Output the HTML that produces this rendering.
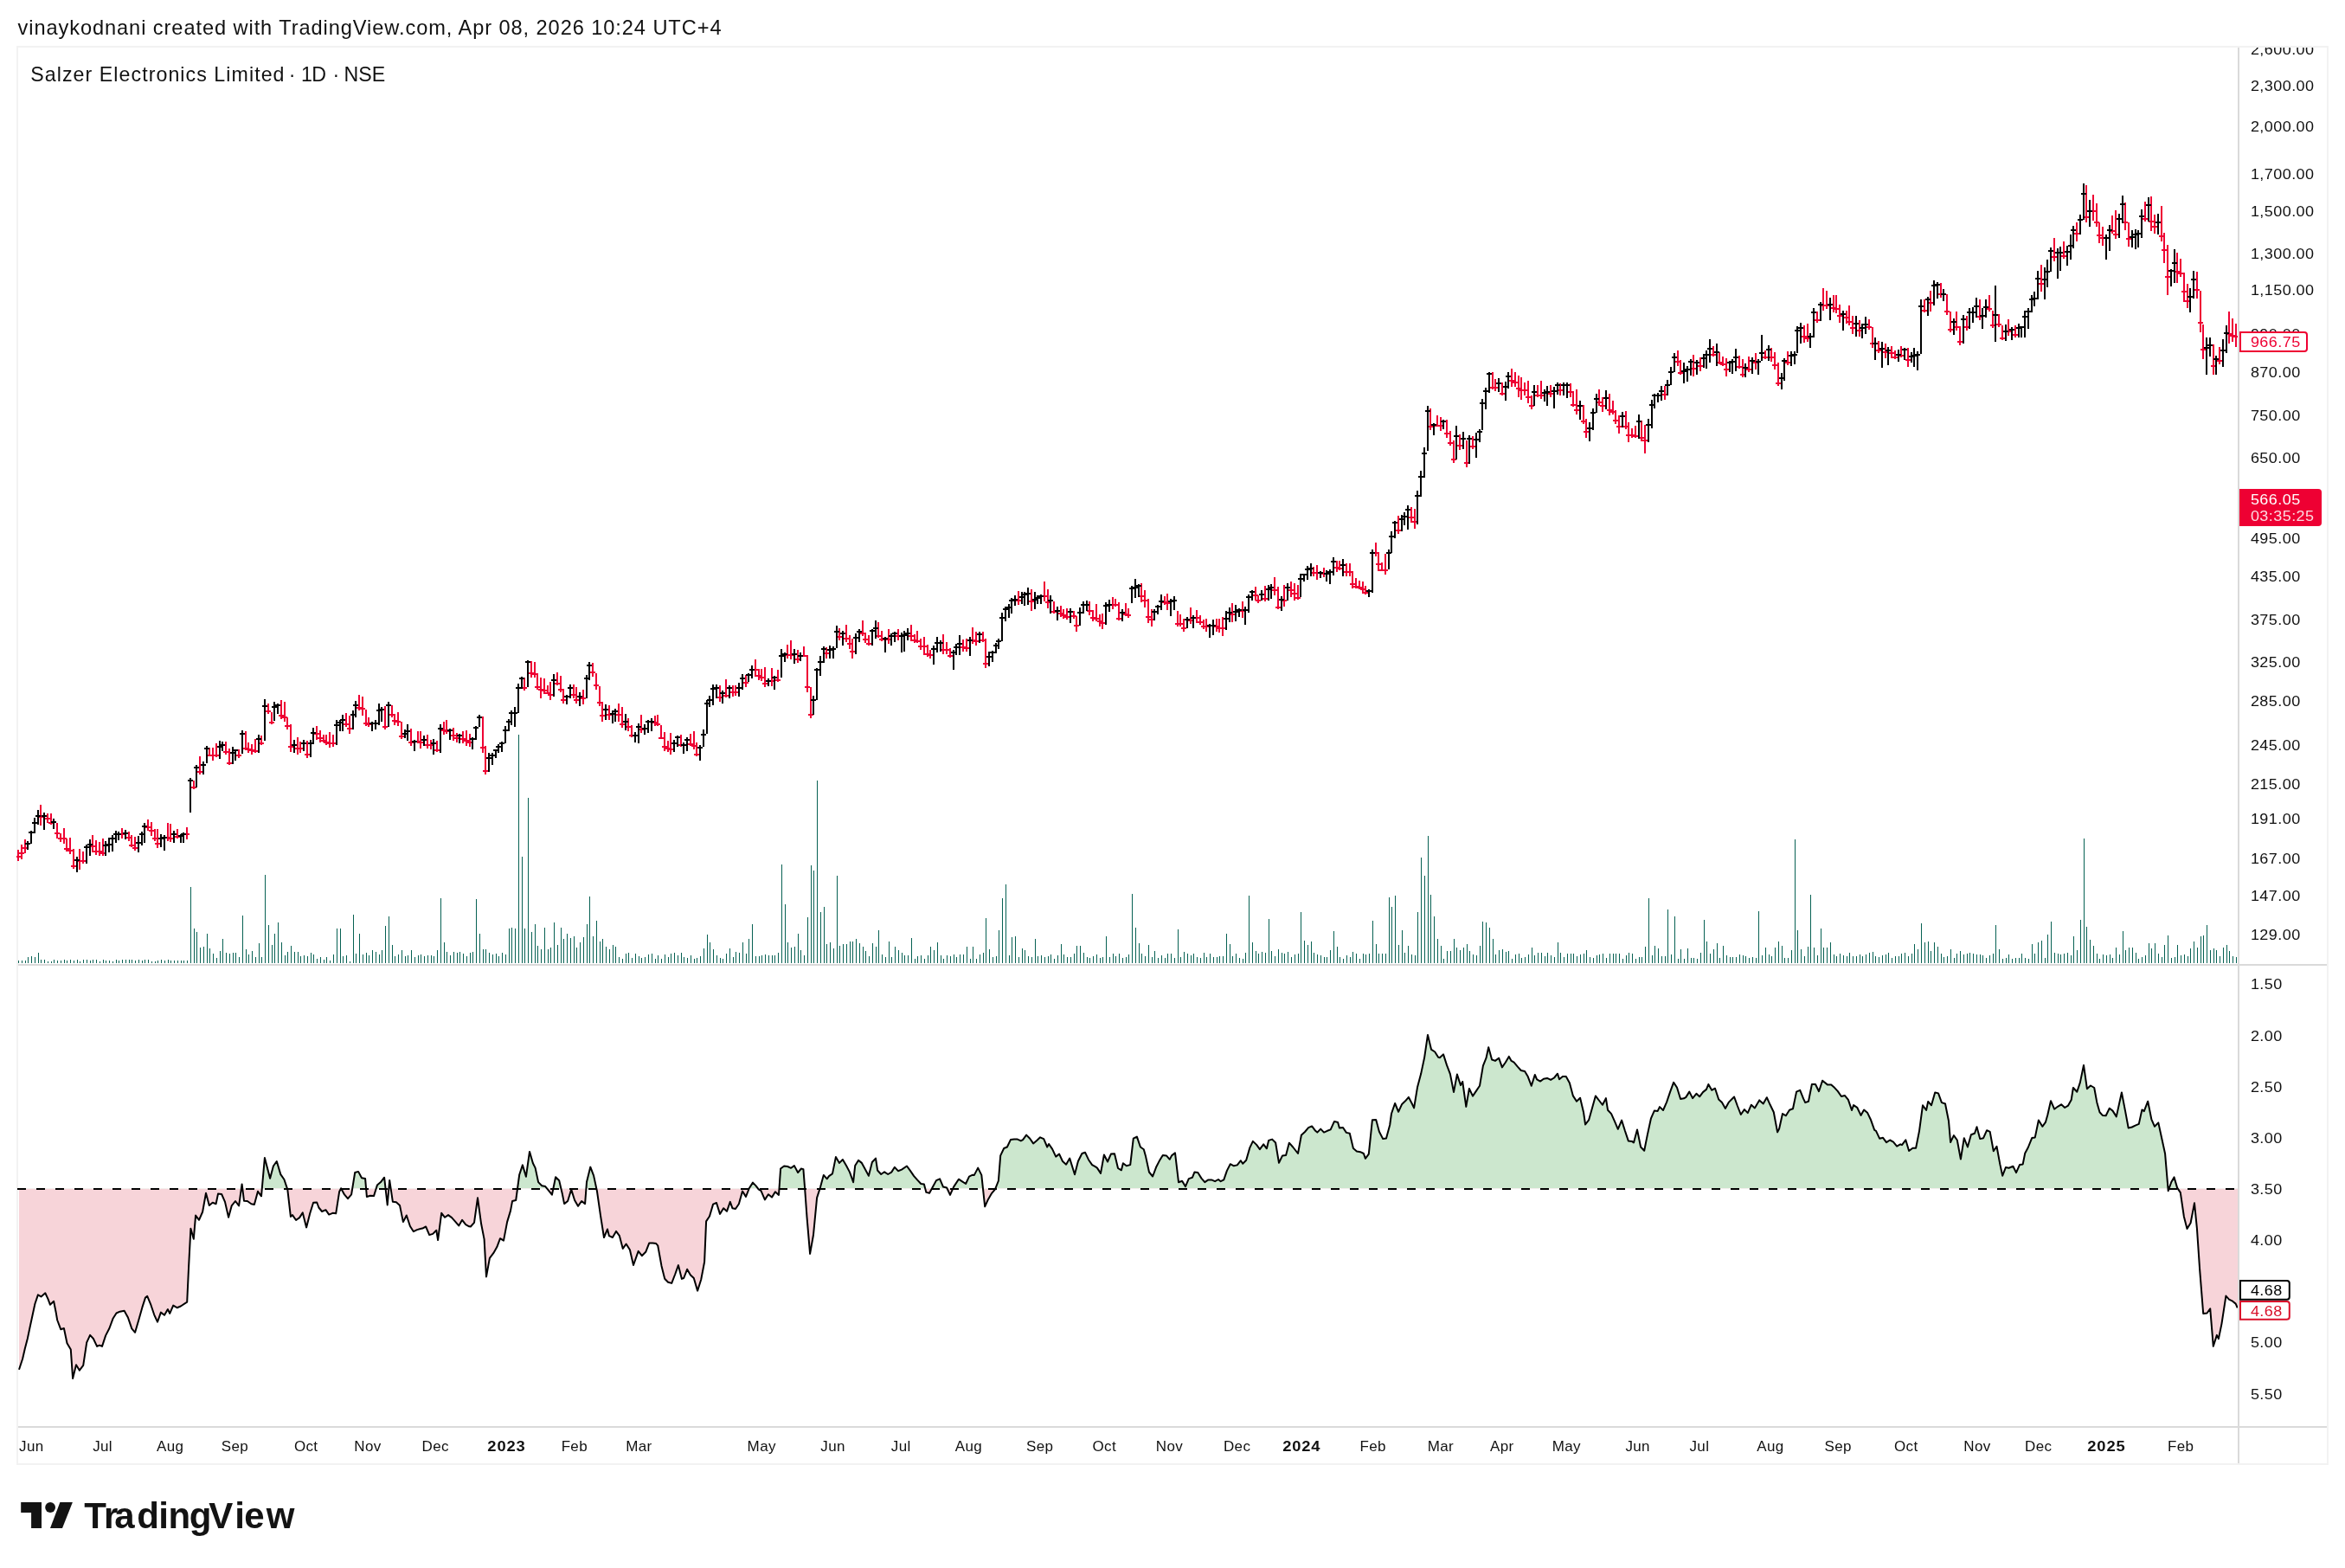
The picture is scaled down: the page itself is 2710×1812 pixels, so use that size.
<!DOCTYPE html><html><head><meta charset="utf-8"><title>Salzer Electronics Limited</title><style>html,body{margin:0;padding:0;background:#fff}svg{display:block;will-change:transform}</style></head><body><svg width="2710" height="1812" viewBox="0 0 2710 1812" font-family='&quot;Liberation Sans&quot;, sans-serif'><defs><clipPath id="cu"><rect x="0" y="1116" width="2586" height="257.5"/></clipPath><clipPath id="cd"><rect x="0" y="1373.5" width="2586" height="300"/></clipPath><clipPath id="ca"><rect x="2588" y="55" width="101" height="1060"/></clipPath><clipPath id="cp"><rect x="19" y="55" width="2567" height="1059"/></clipPath></defs><text x="20.5" y="40" font-size="23.6" fill="#111" textLength="813" lengthAdjust="spacing">vinaykodnani created with TradingView.com, Apr 08, 2026 10:24 UTC+4</text><rect x="20" y="54" width="2670" height="1638" fill="none" stroke="#f2f2f2" stroke-width="2"/><g font-size="23.2" fill="#111"><text x="35.2" y="94" textLength="293.3" lengthAdjust="spacing">Salzer Electronics Limited</text><text x="337.7" y="94" text-anchor="middle">·</text><text x="348" y="94" textLength="29" lengthAdjust="spacing">1D</text><text x="388.4" y="94" text-anchor="middle">·</text><text x="397.6" y="94" textLength="47.6" lengthAdjust="spacing">NSE</text></g><path d="M22 1373.5 L22 1582.7 26.1 1570.2 28.8 1558.6 31.8 1547 35 1531.8 37.7 1519.3 40.4 1506.8 43.9 1496.4 47.5 1498.4 52.3 1494.3 55.5 1501.1 57.9 1507.7 62.1 1503.8 64.5 1515.7 66.2 1525.5 70.2 1536.2 73.9 1535 77.5 1552.3 81.8 1559.5 84.1 1592.9 88 1577.3 91.8 1583.6 96.2 1577.9 100.2 1551.4 104.1 1542.9 107.9 1547 112.1 1555.9 115 1554.6 118 1555.9 122.1 1543.4 126.4 1535 130.5 1523.8 134.5 1517.5 138.6 1515.7 143.6 1514.8 147.9 1522.5 152.3 1535.4 156.1 1539.8 160.4 1525 164.5 1510.4 168 1499.6 170.2 1497.9 174.3 1507.7 178.2 1519.3 182 1527.7 185.9 1516.6 190 1519.8 193.9 1513 196.2 1517.9 200.2 1508.6 204.6 1511.2 208.8 1509.5 216.2 1504.6 218 1465.7 220.4 1419.8 223.8 1431.8 226.1 1404.6 230 1409.8 234.1 1400.5 238 1378.8 241.8 1393 245.7 1389.8 249.6 1391.2 252 1379.6 256.1 1380 260 1388.9 264.1 1406.8 267.7 1393.4 272 1388 276.1 1393.4 279.6 1368.4 282 1387.7 285.9 1388 290.4 1391.2 293.9 1392 298 1376.8 302 1382.3 305.9 1338 312.1 1361.8 315.9 1347.5 319.8 1342 324.3 1357.1 328.4 1363 332.3 1374.6 335.9 1405.9 338 1404.1 342.1 1410 346.1 1407.1 349.8 1401.4 354.1 1418.4 358.2 1402.3 362.1 1389.8 366.2 1389.5 368.4 1395.5 372.1 1400 376.4 1398.2 380.2 1403.6 384.5 1401.8 388.2 1402.3 392.1 1377.3 394.1 1373.2 398 1380.4 402 1385.2 406.1 1380.4 410.2 1355 414.1 1353.9 418 1361.2 422.1 1362.1 423.9 1383 427.9 1381.8 432 1382.1 435.9 1369.6 440 1366.1 444.1 1360.7 447.7 1392.5 450.2 1363.9 453.9 1388.8 457.9 1389.3 462 1392.9 465.9 1412.1 469.8 1404.5 473.9 1417 477.9 1423.2 482 1421.1 485.9 1420 488.2 1419.6 492.1 1417.5 496.2 1427.1 500.2 1425.9 504.3 1421.8 506.1 1433 510.2 1401.8 514.1 1406.8 518 1404.1 522.1 1407.1 526.1 1411.6 530.2 1416.4 534.1 1409.8 538.2 1415.2 542.1 1417.3 543.9 1417.5 548 1412.9 552 1384.3 556.1 1414.3 559.6 1432.1 562 1475.4 565.9 1453.9 570.4 1447.9 574.3 1441.1 578 1431.2 582 1433.6 586.1 1412.1 590 1399.1 592.1 1387.9 596.2 1387 600.2 1357.5 603.9 1346.4 607.9 1359.8 612 1330.9 615.9 1344.3 618.6 1349.6 622.1 1366.1 626.2 1370.2 630.2 1371.1 634.1 1375.9 637.9 1380.7 642.1 1360.2 646.2 1364.3 649.8 1379.5 652.1 1391.1 656.1 1388 660.2 1374.6 664.1 1387 668 1393.8 672.1 1388 676.1 1391.1 678 1366.1 682.3 1348.6 686.1 1358.6 690 1376.8 694.1 1405.4 698 1430 702 1420.5 703.9 1428.2 707.9 1430 712 1422.9 715.9 1428.2 719.8 1442.9 723.6 1437.5 727.9 1444.3 732 1462 737.7 1445.9 741.8 1451.2 746.2 1446.8 750.2 1436.6 754.3 1436.6 758.2 1437.1 760.2 1439.3 764.5 1462.9 768.2 1477.7 772.1 1481.8 776.2 1482.9 780.2 1472.5 783.9 1462.1 787.9 1477.9 790.2 1477 794.1 1466.8 798 1473.4 801.8 1477 806.1 1491.6 810.2 1478.8 814.1 1458.2 816.1 1411.4 820 1405.5 824.1 1391.6 828 1390 832 1402.9 836.1 1396.2 840 1399.8 843.8 1388.9 846.4 1396.2 850 1397 853.9 1391.2 858 1376.6 862 1382.9 865.9 1373 870 1366.6 873.6 1370.4 876.6 1374.3 879.5 1376.1 883.9 1386.4 887.9 1380.2 892 1383.6 895.9 1377.3 900 1380.9 902.1 1350.5 906.1 1347.5 910.2 1348 914.1 1349.8 917.9 1347.1 922.1 1355 925.9 1350.5 928.4 1351.1 930.2 1374.3 932.5 1406.4 936.1 1448.9 940 1427 944.1 1384.1 948 1372.1 951.8 1357.9 955.7 1362.3 958 1359.1 962 1356.4 965.9 1337.1 970 1343.9 973.9 1340 978 1347 982 1354.6 986.1 1366.2 988.2 1347.1 992 1340.9 995.9 1343.9 1000 1351.4 1003.9 1358.8 1007.9 1343 1012 1338.6 1014.1 1352.5 1018.2 1357 1022.1 1354.3 1026.2 1357 1030.2 1354.6 1033.9 1348.8 1037.9 1353.2 1042 1351.6 1048 1347.5 1052.1 1353.2 1056.2 1359.1 1060.2 1363.6 1064.3 1368 1067.9 1368.6 1070.4 1377.9 1074.1 1378.8 1078 1371.6 1082 1364.1 1086.1 1362.3 1090 1371.6 1094.1 1372.5 1098 1380.9 1102.1 1371.6 1107.9 1362.7 1112 1365.4 1116.1 1368 1120 1359.6 1124.1 1357.7 1125.9 1357.9 1130.2 1349.6 1134.3 1357.9 1138.2 1394.3 1142 1385.9 1146.2 1378.8 1150 1374.3 1153.9 1364.5 1156.2 1335.4 1160.2 1327 1163.9 1325.5 1167.9 1317.1 1172 1316.6 1175.9 1316.6 1179.8 1318.4 1182.1 1317.1 1186.1 1311.6 1190.2 1315.7 1194.1 1321.4 1198.2 1317.9 1202.1 1314.3 1206.2 1316.2 1210.2 1325.5 1212.1 1322 1216.1 1327.9 1220.2 1336.6 1224.1 1333.6 1228 1342 1232.1 1345.7 1236.2 1338.6 1242 1357.3 1245.9 1342 1250.4 1333 1254.1 1331.8 1258 1340.2 1262.1 1346.1 1266.1 1348.4 1267.9 1349.6 1272 1355.9 1275.9 1334.5 1280 1342.5 1283.9 1333.6 1288 1333.2 1292 1350 1295.9 1352.3 1297.9 1344.3 1301.8 1347.3 1306.2 1346.1 1309.8 1315.7 1313.9 1313.6 1317.9 1325.5 1321.8 1328.2 1324.1 1336.6 1328 1354.5 1332.1 1359.5 1336.1 1348.8 1339.8 1341.6 1343.8 1335 1347.9 1335.4 1351.8 1339.8 1354.1 1335.4 1358 1332.3 1362 1366.2 1366.1 1364.8 1370 1371.1 1373.8 1362.1 1378 1360.7 1380.4 1354.6 1384.3 1355 1388.4 1361.6 1392.3 1366.2 1396.4 1363.4 1400 1363.4 1404.1 1365.2 1408 1363 1410.7 1365.2 1414.3 1363.4 1417.9 1352.9 1421.8 1345.2 1425.9 1347.3 1429.8 1346.4 1433.9 1341.2 1436.2 1344.8 1440.2 1340.7 1444.3 1326.4 1447.9 1318.9 1452.1 1322.9 1455.9 1328.2 1460.2 1322.3 1463.9 1327.3 1466.1 1317.9 1470.2 1316.6 1474.1 1320.5 1478 1343.8 1482.1 1335.4 1486.1 1335 1489.8 1320.7 1494.1 1325.5 1500 1333 1503.9 1311.8 1508 1308 1512.1 1303.2 1516.1 1301.4 1520.2 1306.8 1522.3 1308.6 1526.2 1304.6 1530 1308.6 1533.9 1306.8 1537.7 1305.4 1542 1295.9 1546.1 1297 1547.9 1303.6 1552 1303 1555.9 1308.9 1559.8 1309.8 1563.9 1327.1 1567.9 1330.4 1572 1331.2 1575.9 1333 1577.9 1338.8 1581.8 1333.6 1585.9 1294.3 1590.2 1294.1 1593.9 1307.7 1598.2 1316.1 1602 1315.5 1606.2 1300 1608 1287 1612.1 1275 1616.1 1284.8 1620.2 1275.9 1624.1 1272.3 1627.9 1267.9 1631.8 1275.5 1634.1 1280.4 1638 1256.6 1642.1 1241.1 1646.1 1222.3 1650 1195.9 1654.1 1212.9 1658.2 1215.5 1662.1 1221.8 1663.9 1222.3 1668 1218.4 1672 1230.9 1675.9 1241.1 1680 1262.1 1683.9 1241.6 1688 1254.1 1690.2 1250 1694.3 1278.9 1697.9 1258 1702 1266.6 1706.2 1260.4 1710 1254.8 1713.9 1231.6 1717.5 1222.7 1720.2 1210.2 1724.1 1224.5 1727.9 1225.9 1732.1 1222.7 1735.9 1233.4 1739.8 1227.7 1743.8 1220.9 1746.6 1225.9 1749.6 1227.7 1753.8 1232.7 1757.7 1237 1762.1 1237.9 1765.7 1244.1 1769.8 1254.8 1773.8 1242 1776.1 1247.3 1780 1249.6 1783.9 1246.8 1788 1245.9 1792.1 1247.9 1796.1 1245.5 1800 1240.7 1802 1247.3 1805.9 1244.1 1809.8 1244.1 1813.9 1251.4 1817.9 1266.4 1822 1272.7 1826.1 1268.8 1830 1285.2 1832.1 1299.5 1836.2 1294.1 1840.2 1279.8 1843.9 1266.4 1848.2 1272 1852 1276.8 1855.9 1269.1 1858 1282.7 1862.1 1287.1 1866.1 1296.1 1869.8 1304.8 1874.1 1294.6 1877.9 1306.8 1881.8 1318.4 1886.2 1319.1 1888 1320.5 1892 1305.4 1896.1 1325.5 1900.2 1329.8 1903.8 1311.6 1908 1292.3 1911.8 1283.6 1915.7 1283.9 1918 1279.1 1922 1283 1926.1 1273.6 1930 1262.1 1934.1 1250.9 1938 1256.8 1942.1 1270 1946.1 1269.3 1948.4 1267.9 1952.3 1261.6 1956.1 1269.1 1960.4 1263.8 1964.1 1267.3 1968 1262.1 1972 1258.9 1974.3 1253 1978.2 1259.8 1982 1257.7 1986.2 1270.5 1990 1274.1 1993.9 1280.9 1998 1273.6 2004.1 1267.5 2007.9 1278 2011.8 1288 2015.9 1282.1 2019.8 1286.1 2023.8 1276.8 2027.9 1280.4 2033.2 1271.4 2037.7 1275.5 2041.8 1268.2 2045.7 1276.8 2049.8 1285.2 2054.1 1308.4 2056.1 1304.5 2060 1287 2063.9 1289.3 2068 1282.7 2072 1281.2 2076.1 1261.6 2080.2 1259.8 2084.1 1269.6 2086.2 1274.1 2090 1272.7 2093.9 1253 2098 1253 2102 1261.2 2106.1 1248.8 2112.1 1253.6 2116.2 1253.6 2120.2 1257.1 2123.9 1261.1 2127.9 1267 2132 1266.1 2135.9 1270.9 2140 1283 2142.1 1277.1 2146.2 1279.8 2150.5 1288.9 2154.1 1282.5 2158.2 1286.1 2162.1 1294.3 2166.2 1305.9 2168 1306.8 2172.1 1315.7 2176.1 1314.8 2180 1320.2 2184.1 1317.5 2188 1319.6 2192.1 1324.6 2196.2 1322.3 2198 1323.2 2202.3 1317.3 2206.1 1330 2210.4 1326.8 2214.1 1326.8 2218 1307.1 2222 1277.3 2226.1 1283 2228.2 1272.9 2232 1277.3 2236.2 1262.5 2240 1263.4 2243.9 1274.1 2248 1275.5 2252 1295.5 2254.1 1320 2257.9 1312.1 2261.8 1317.5 2265.9 1339.6 2269.8 1315.2 2273.9 1325.5 2277.9 1311.2 2282 1309.8 2284.5 1302.3 2288.2 1316.1 2292.1 1315.2 2296.1 1306.2 2299.7 1307.9 2303.8 1330.2 2307.5 1324.8 2311.3 1345.4 2314.2 1358.7 2317.9 1349.1 2321.5 1349.8 2326.4 1347.8 2330 1355.1 2334.1 1345.9 2337.7 1345.4 2340.2 1332.8 2343.8 1326 2348.2 1315.1 2351.8 1314.4 2355.9 1294.5 2360.3 1301.8 2363.9 1296.9 2366.3 1288.5 2370 1272.2 2374.1 1281.7 2378 1278.8 2382.1 1276.3 2386.2 1280 2390.1 1277.6 2393.7 1271 2395.9 1257 2400.3 1261.8 2403.9 1250.9 2408 1231 2411.9 1258.2 2416 1254.5 2420.2 1257 2423.3 1273.9 2426.5 1285.3 2429.8 1288.9 2433.7 1289.2 2437.8 1280.7 2441.5 1283.6 2445.8 1290.4 2451.9 1262.5 2456 1283.6 2459.7 1303.5 2463.8 1302.5 2467.7 1300.6 2471.8 1298.9 2475.4 1282.4 2477.8 1284.1 2482.2 1272.7 2486.3 1293.3 2490 1301.8 2494.3 1297.4 2498.4 1316.3 2502.1 1333.3 2505.7 1376.2 2509.3 1366 2512.5 1360.4 2516.1 1372.6 2519.8 1378.1 2523.9 1406 2527.5 1420.1 2531.6 1413.3 2536 1390.3 2538.9 1419.3 2542.1 1466.6 2546.2 1518 2550.5 1517.5 2554.2 1512.2 2557.8 1555.8 2561.9 1542.9 2563.9 1547.1 2567.5 1529.6 2572.4 1497.6 2576 1501.7 2580.1 1503.7 2583.7 1506.6 2585.7 1511.4 L2586 1511.4 L2586 1373.5 Z" fill="#cce7ce" clip-path="url(#cu)"/><path d="M22 1373.5 L22 1582.7 26.1 1570.2 28.8 1558.6 31.8 1547 35 1531.8 37.7 1519.3 40.4 1506.8 43.9 1496.4 47.5 1498.4 52.3 1494.3 55.5 1501.1 57.9 1507.7 62.1 1503.8 64.5 1515.7 66.2 1525.5 70.2 1536.2 73.9 1535 77.5 1552.3 81.8 1559.5 84.1 1592.9 88 1577.3 91.8 1583.6 96.2 1577.9 100.2 1551.4 104.1 1542.9 107.9 1547 112.1 1555.9 115 1554.6 118 1555.9 122.1 1543.4 126.4 1535 130.5 1523.8 134.5 1517.5 138.6 1515.7 143.6 1514.8 147.9 1522.5 152.3 1535.4 156.1 1539.8 160.4 1525 164.5 1510.4 168 1499.6 170.2 1497.9 174.3 1507.7 178.2 1519.3 182 1527.7 185.9 1516.6 190 1519.8 193.9 1513 196.2 1517.9 200.2 1508.6 204.6 1511.2 208.8 1509.5 216.2 1504.6 218 1465.7 220.4 1419.8 223.8 1431.8 226.1 1404.6 230 1409.8 234.1 1400.5 238 1378.8 241.8 1393 245.7 1389.8 249.6 1391.2 252 1379.6 256.1 1380 260 1388.9 264.1 1406.8 267.7 1393.4 272 1388 276.1 1393.4 279.6 1368.4 282 1387.7 285.9 1388 290.4 1391.2 293.9 1392 298 1376.8 302 1382.3 305.9 1338 312.1 1361.8 315.9 1347.5 319.8 1342 324.3 1357.1 328.4 1363 332.3 1374.6 335.9 1405.9 338 1404.1 342.1 1410 346.1 1407.1 349.8 1401.4 354.1 1418.4 358.2 1402.3 362.1 1389.8 366.2 1389.5 368.4 1395.5 372.1 1400 376.4 1398.2 380.2 1403.6 384.5 1401.8 388.2 1402.3 392.1 1377.3 394.1 1373.2 398 1380.4 402 1385.2 406.1 1380.4 410.2 1355 414.1 1353.9 418 1361.2 422.1 1362.1 423.9 1383 427.9 1381.8 432 1382.1 435.9 1369.6 440 1366.1 444.1 1360.7 447.7 1392.5 450.2 1363.9 453.9 1388.8 457.9 1389.3 462 1392.9 465.9 1412.1 469.8 1404.5 473.9 1417 477.9 1423.2 482 1421.1 485.9 1420 488.2 1419.6 492.1 1417.5 496.2 1427.1 500.2 1425.9 504.3 1421.8 506.1 1433 510.2 1401.8 514.1 1406.8 518 1404.1 522.1 1407.1 526.1 1411.6 530.2 1416.4 534.1 1409.8 538.2 1415.2 542.1 1417.3 543.9 1417.5 548 1412.9 552 1384.3 556.1 1414.3 559.6 1432.1 562 1475.4 565.9 1453.9 570.4 1447.9 574.3 1441.1 578 1431.2 582 1433.6 586.1 1412.1 590 1399.1 592.1 1387.9 596.2 1387 600.2 1357.5 603.9 1346.4 607.9 1359.8 612 1330.9 615.9 1344.3 618.6 1349.6 622.1 1366.1 626.2 1370.2 630.2 1371.1 634.1 1375.9 637.9 1380.7 642.1 1360.2 646.2 1364.3 649.8 1379.5 652.1 1391.1 656.1 1388 660.2 1374.6 664.1 1387 668 1393.8 672.1 1388 676.1 1391.1 678 1366.1 682.3 1348.6 686.1 1358.6 690 1376.8 694.1 1405.4 698 1430 702 1420.5 703.9 1428.2 707.9 1430 712 1422.9 715.9 1428.2 719.8 1442.9 723.6 1437.5 727.9 1444.3 732 1462 737.7 1445.9 741.8 1451.2 746.2 1446.8 750.2 1436.6 754.3 1436.6 758.2 1437.1 760.2 1439.3 764.5 1462.9 768.2 1477.7 772.1 1481.8 776.2 1482.9 780.2 1472.5 783.9 1462.1 787.9 1477.9 790.2 1477 794.1 1466.8 798 1473.4 801.8 1477 806.1 1491.6 810.2 1478.8 814.1 1458.2 816.1 1411.4 820 1405.5 824.1 1391.6 828 1390 832 1402.9 836.1 1396.2 840 1399.8 843.8 1388.9 846.4 1396.2 850 1397 853.9 1391.2 858 1376.6 862 1382.9 865.9 1373 870 1366.6 873.6 1370.4 876.6 1374.3 879.5 1376.1 883.9 1386.4 887.9 1380.2 892 1383.6 895.9 1377.3 900 1380.9 902.1 1350.5 906.1 1347.5 910.2 1348 914.1 1349.8 917.9 1347.1 922.1 1355 925.9 1350.5 928.4 1351.1 930.2 1374.3 932.5 1406.4 936.1 1448.9 940 1427 944.1 1384.1 948 1372.1 951.8 1357.9 955.7 1362.3 958 1359.1 962 1356.4 965.9 1337.1 970 1343.9 973.9 1340 978 1347 982 1354.6 986.1 1366.2 988.2 1347.1 992 1340.9 995.9 1343.9 1000 1351.4 1003.9 1358.8 1007.9 1343 1012 1338.6 1014.1 1352.5 1018.2 1357 1022.1 1354.3 1026.2 1357 1030.2 1354.6 1033.9 1348.8 1037.9 1353.2 1042 1351.6 1048 1347.5 1052.1 1353.2 1056.2 1359.1 1060.2 1363.6 1064.3 1368 1067.9 1368.6 1070.4 1377.9 1074.1 1378.8 1078 1371.6 1082 1364.1 1086.1 1362.3 1090 1371.6 1094.1 1372.5 1098 1380.9 1102.1 1371.6 1107.9 1362.7 1112 1365.4 1116.1 1368 1120 1359.6 1124.1 1357.7 1125.9 1357.9 1130.2 1349.6 1134.3 1357.9 1138.2 1394.3 1142 1385.9 1146.2 1378.8 1150 1374.3 1153.9 1364.5 1156.2 1335.4 1160.2 1327 1163.9 1325.5 1167.9 1317.1 1172 1316.6 1175.9 1316.6 1179.8 1318.4 1182.1 1317.1 1186.1 1311.6 1190.2 1315.7 1194.1 1321.4 1198.2 1317.9 1202.1 1314.3 1206.2 1316.2 1210.2 1325.5 1212.1 1322 1216.1 1327.9 1220.2 1336.6 1224.1 1333.6 1228 1342 1232.1 1345.7 1236.2 1338.6 1242 1357.3 1245.9 1342 1250.4 1333 1254.1 1331.8 1258 1340.2 1262.1 1346.1 1266.1 1348.4 1267.9 1349.6 1272 1355.9 1275.9 1334.5 1280 1342.5 1283.9 1333.6 1288 1333.2 1292 1350 1295.9 1352.3 1297.9 1344.3 1301.8 1347.3 1306.2 1346.1 1309.8 1315.7 1313.9 1313.6 1317.9 1325.5 1321.8 1328.2 1324.1 1336.6 1328 1354.5 1332.1 1359.5 1336.1 1348.8 1339.8 1341.6 1343.8 1335 1347.9 1335.4 1351.8 1339.8 1354.1 1335.4 1358 1332.3 1362 1366.2 1366.1 1364.8 1370 1371.1 1373.8 1362.1 1378 1360.7 1380.4 1354.6 1384.3 1355 1388.4 1361.6 1392.3 1366.2 1396.4 1363.4 1400 1363.4 1404.1 1365.2 1408 1363 1410.7 1365.2 1414.3 1363.4 1417.9 1352.9 1421.8 1345.2 1425.9 1347.3 1429.8 1346.4 1433.9 1341.2 1436.2 1344.8 1440.2 1340.7 1444.3 1326.4 1447.9 1318.9 1452.1 1322.9 1455.9 1328.2 1460.2 1322.3 1463.9 1327.3 1466.1 1317.9 1470.2 1316.6 1474.1 1320.5 1478 1343.8 1482.1 1335.4 1486.1 1335 1489.8 1320.7 1494.1 1325.5 1500 1333 1503.9 1311.8 1508 1308 1512.1 1303.2 1516.1 1301.4 1520.2 1306.8 1522.3 1308.6 1526.2 1304.6 1530 1308.6 1533.9 1306.8 1537.7 1305.4 1542 1295.9 1546.1 1297 1547.9 1303.6 1552 1303 1555.9 1308.9 1559.8 1309.8 1563.9 1327.1 1567.9 1330.4 1572 1331.2 1575.9 1333 1577.9 1338.8 1581.8 1333.6 1585.9 1294.3 1590.2 1294.1 1593.9 1307.7 1598.2 1316.1 1602 1315.5 1606.2 1300 1608 1287 1612.1 1275 1616.1 1284.8 1620.2 1275.9 1624.1 1272.3 1627.9 1267.9 1631.8 1275.5 1634.1 1280.4 1638 1256.6 1642.1 1241.1 1646.1 1222.3 1650 1195.9 1654.1 1212.9 1658.2 1215.5 1662.1 1221.8 1663.9 1222.3 1668 1218.4 1672 1230.9 1675.9 1241.1 1680 1262.1 1683.9 1241.6 1688 1254.1 1690.2 1250 1694.3 1278.9 1697.9 1258 1702 1266.6 1706.2 1260.4 1710 1254.8 1713.9 1231.6 1717.5 1222.7 1720.2 1210.2 1724.1 1224.5 1727.9 1225.9 1732.1 1222.7 1735.9 1233.4 1739.8 1227.7 1743.8 1220.9 1746.6 1225.9 1749.6 1227.7 1753.8 1232.7 1757.7 1237 1762.1 1237.9 1765.7 1244.1 1769.8 1254.8 1773.8 1242 1776.1 1247.3 1780 1249.6 1783.9 1246.8 1788 1245.9 1792.1 1247.9 1796.1 1245.5 1800 1240.7 1802 1247.3 1805.9 1244.1 1809.8 1244.1 1813.9 1251.4 1817.9 1266.4 1822 1272.7 1826.1 1268.8 1830 1285.2 1832.1 1299.5 1836.2 1294.1 1840.2 1279.8 1843.9 1266.4 1848.2 1272 1852 1276.8 1855.9 1269.1 1858 1282.7 1862.1 1287.1 1866.1 1296.1 1869.8 1304.8 1874.1 1294.6 1877.9 1306.8 1881.8 1318.4 1886.2 1319.1 1888 1320.5 1892 1305.4 1896.1 1325.5 1900.2 1329.8 1903.8 1311.6 1908 1292.3 1911.8 1283.6 1915.7 1283.9 1918 1279.1 1922 1283 1926.1 1273.6 1930 1262.1 1934.1 1250.9 1938 1256.8 1942.1 1270 1946.1 1269.3 1948.4 1267.9 1952.3 1261.6 1956.1 1269.1 1960.4 1263.8 1964.1 1267.3 1968 1262.1 1972 1258.9 1974.3 1253 1978.2 1259.8 1982 1257.7 1986.2 1270.5 1990 1274.1 1993.9 1280.9 1998 1273.6 2004.1 1267.5 2007.9 1278 2011.8 1288 2015.9 1282.1 2019.8 1286.1 2023.8 1276.8 2027.9 1280.4 2033.2 1271.4 2037.7 1275.5 2041.8 1268.2 2045.7 1276.8 2049.8 1285.2 2054.1 1308.4 2056.1 1304.5 2060 1287 2063.9 1289.3 2068 1282.7 2072 1281.2 2076.1 1261.6 2080.2 1259.8 2084.1 1269.6 2086.2 1274.1 2090 1272.7 2093.9 1253 2098 1253 2102 1261.2 2106.1 1248.8 2112.1 1253.6 2116.2 1253.6 2120.2 1257.1 2123.9 1261.1 2127.9 1267 2132 1266.1 2135.9 1270.9 2140 1283 2142.1 1277.1 2146.2 1279.8 2150.5 1288.9 2154.1 1282.5 2158.2 1286.1 2162.1 1294.3 2166.2 1305.9 2168 1306.8 2172.1 1315.7 2176.1 1314.8 2180 1320.2 2184.1 1317.5 2188 1319.6 2192.1 1324.6 2196.2 1322.3 2198 1323.2 2202.3 1317.3 2206.1 1330 2210.4 1326.8 2214.1 1326.8 2218 1307.1 2222 1277.3 2226.1 1283 2228.2 1272.9 2232 1277.3 2236.2 1262.5 2240 1263.4 2243.9 1274.1 2248 1275.5 2252 1295.5 2254.1 1320 2257.9 1312.1 2261.8 1317.5 2265.9 1339.6 2269.8 1315.2 2273.9 1325.5 2277.9 1311.2 2282 1309.8 2284.5 1302.3 2288.2 1316.1 2292.1 1315.2 2296.1 1306.2 2299.7 1307.9 2303.8 1330.2 2307.5 1324.8 2311.3 1345.4 2314.2 1358.7 2317.9 1349.1 2321.5 1349.8 2326.4 1347.8 2330 1355.1 2334.1 1345.9 2337.7 1345.4 2340.2 1332.8 2343.8 1326 2348.2 1315.1 2351.8 1314.4 2355.9 1294.5 2360.3 1301.8 2363.9 1296.9 2366.3 1288.5 2370 1272.2 2374.1 1281.7 2378 1278.8 2382.1 1276.3 2386.2 1280 2390.1 1277.6 2393.7 1271 2395.9 1257 2400.3 1261.8 2403.9 1250.9 2408 1231 2411.9 1258.2 2416 1254.5 2420.2 1257 2423.3 1273.9 2426.5 1285.3 2429.8 1288.9 2433.7 1289.2 2437.8 1280.7 2441.5 1283.6 2445.8 1290.4 2451.9 1262.5 2456 1283.6 2459.7 1303.5 2463.8 1302.5 2467.7 1300.6 2471.8 1298.9 2475.4 1282.4 2477.8 1284.1 2482.2 1272.7 2486.3 1293.3 2490 1301.8 2494.3 1297.4 2498.4 1316.3 2502.1 1333.3 2505.7 1376.2 2509.3 1366 2512.5 1360.4 2516.1 1372.6 2519.8 1378.1 2523.9 1406 2527.5 1420.1 2531.6 1413.3 2536 1390.3 2538.9 1419.3 2542.1 1466.6 2546.2 1518 2550.5 1517.5 2554.2 1512.2 2557.8 1555.8 2561.9 1542.9 2563.9 1547.1 2567.5 1529.6 2572.4 1497.6 2576 1501.7 2580.1 1503.7 2583.7 1506.6 2585.7 1511.4 L2586 1511.4 L2586 1373.5 Z" fill="#f7d4d9" clip-path="url(#cd)"/><path d="M20 1374H2586" stroke="#000" stroke-width="2" stroke-dasharray="10 12" fill="none"/><polyline points="22,1582.7 26.1,1570.2 28.8,1558.6 31.8,1547 35,1531.8 37.7,1519.3 40.4,1506.8 43.9,1496.4 47.5,1498.4 52.3,1494.3 55.5,1501.1 57.9,1507.7 62.1,1503.8 64.5,1515.7 66.2,1525.5 70.2,1536.2 73.9,1535 77.5,1552.3 81.8,1559.5 84.1,1592.9 88,1577.3 91.8,1583.6 96.2,1577.9 100.2,1551.4 104.1,1542.9 107.9,1547 112.1,1555.9 115,1554.6 118,1555.9 122.1,1543.4 126.4,1535 130.5,1523.8 134.5,1517.5 138.6,1515.7 143.6,1514.8 147.9,1522.5 152.3,1535.4 156.1,1539.8 160.4,1525 164.5,1510.4 168,1499.6 170.2,1497.9 174.3,1507.7 178.2,1519.3 182,1527.7 185.9,1516.6 190,1519.8 193.9,1513 196.2,1517.9 200.2,1508.6 204.6,1511.2 208.8,1509.5 216.2,1504.6 218,1465.7 220.4,1419.8 223.8,1431.8 226.1,1404.6 230,1409.8 234.1,1400.5 238,1378.8 241.8,1393 245.7,1389.8 249.6,1391.2 252,1379.6 256.1,1380 260,1388.9 264.1,1406.8 267.7,1393.4 272,1388 276.1,1393.4 279.6,1368.4 282,1387.7 285.9,1388 290.4,1391.2 293.9,1392 298,1376.8 302,1382.3 305.9,1338 312.1,1361.8 315.9,1347.5 319.8,1342 324.3,1357.1 328.4,1363 332.3,1374.6 335.9,1405.9 338,1404.1 342.1,1410 346.1,1407.1 349.8,1401.4 354.1,1418.4 358.2,1402.3 362.1,1389.8 366.2,1389.5 368.4,1395.5 372.1,1400 376.4,1398.2 380.2,1403.6 384.5,1401.8 388.2,1402.3 392.1,1377.3 394.1,1373.2 398,1380.4 402,1385.2 406.1,1380.4 410.2,1355 414.1,1353.9 418,1361.2 422.1,1362.1 423.9,1383 427.9,1381.8 432,1382.1 435.9,1369.6 440,1366.1 444.1,1360.7 447.7,1392.5 450.2,1363.9 453.9,1388.8 457.9,1389.3 462,1392.9 465.9,1412.1 469.8,1404.5 473.9,1417 477.9,1423.2 482,1421.1 485.9,1420 488.2,1419.6 492.1,1417.5 496.2,1427.1 500.2,1425.9 504.3,1421.8 506.1,1433 510.2,1401.8 514.1,1406.8 518,1404.1 522.1,1407.1 526.1,1411.6 530.2,1416.4 534.1,1409.8 538.2,1415.2 542.1,1417.3 543.9,1417.5 548,1412.9 552,1384.3 556.1,1414.3 559.6,1432.1 562,1475.4 565.9,1453.9 570.4,1447.9 574.3,1441.1 578,1431.2 582,1433.6 586.1,1412.1 590,1399.1 592.1,1387.9 596.2,1387 600.2,1357.5 603.9,1346.4 607.9,1359.8 612,1330.9 615.9,1344.3 618.6,1349.6 622.1,1366.1 626.2,1370.2 630.2,1371.1 634.1,1375.9 637.9,1380.7 642.1,1360.2 646.2,1364.3 649.8,1379.5 652.1,1391.1 656.1,1388 660.2,1374.6 664.1,1387 668,1393.8 672.1,1388 676.1,1391.1 678,1366.1 682.3,1348.6 686.1,1358.6 690,1376.8 694.1,1405.4 698,1430 702,1420.5 703.9,1428.2 707.9,1430 712,1422.9 715.9,1428.2 719.8,1442.9 723.6,1437.5 727.9,1444.3 732,1462 737.7,1445.9 741.8,1451.2 746.2,1446.8 750.2,1436.6 754.3,1436.6 758.2,1437.1 760.2,1439.3 764.5,1462.9 768.2,1477.7 772.1,1481.8 776.2,1482.9 780.2,1472.5 783.9,1462.1 787.9,1477.9 790.2,1477 794.1,1466.8 798,1473.4 801.8,1477 806.1,1491.6 810.2,1478.8 814.1,1458.2 816.1,1411.4 820,1405.5 824.1,1391.6 828,1390 832,1402.9 836.1,1396.2 840,1399.8 843.8,1388.9 846.4,1396.2 850,1397 853.9,1391.2 858,1376.6 862,1382.9 865.9,1373 870,1366.6 873.6,1370.4 876.6,1374.3 879.5,1376.1 883.9,1386.4 887.9,1380.2 892,1383.6 895.9,1377.3 900,1380.9 902.1,1350.5 906.1,1347.5 910.2,1348 914.1,1349.8 917.9,1347.1 922.1,1355 925.9,1350.5 928.4,1351.1 930.2,1374.3 932.5,1406.4 936.1,1448.9 940,1427 944.1,1384.1 948,1372.1 951.8,1357.9 955.7,1362.3 958,1359.1 962,1356.4 965.9,1337.1 970,1343.9 973.9,1340 978,1347 982,1354.6 986.1,1366.2 988.2,1347.1 992,1340.9 995.9,1343.9 1000,1351.4 1003.9,1358.8 1007.9,1343 1012,1338.6 1014.1,1352.5 1018.2,1357 1022.1,1354.3 1026.2,1357 1030.2,1354.6 1033.9,1348.8 1037.9,1353.2 1042,1351.6 1048,1347.5 1052.1,1353.2 1056.2,1359.1 1060.2,1363.6 1064.3,1368 1067.9,1368.6 1070.4,1377.9 1074.1,1378.8 1078,1371.6 1082,1364.1 1086.1,1362.3 1090,1371.6 1094.1,1372.5 1098,1380.9 1102.1,1371.6 1107.9,1362.7 1112,1365.4 1116.1,1368 1120,1359.6 1124.1,1357.7 1125.9,1357.9 1130.2,1349.6 1134.3,1357.9 1138.2,1394.3 1142,1385.9 1146.2,1378.8 1150,1374.3 1153.9,1364.5 1156.2,1335.4 1160.2,1327 1163.9,1325.5 1167.9,1317.1 1172,1316.6 1175.9,1316.6 1179.8,1318.4 1182.1,1317.1 1186.1,1311.6 1190.2,1315.7 1194.1,1321.4 1198.2,1317.9 1202.1,1314.3 1206.2,1316.2 1210.2,1325.5 1212.1,1322 1216.1,1327.9 1220.2,1336.6 1224.1,1333.6 1228,1342 1232.1,1345.7 1236.2,1338.6 1242,1357.3 1245.9,1342 1250.4,1333 1254.1,1331.8 1258,1340.2 1262.1,1346.1 1266.1,1348.4 1267.9,1349.6 1272,1355.9 1275.9,1334.5 1280,1342.5 1283.9,1333.6 1288,1333.2 1292,1350 1295.9,1352.3 1297.9,1344.3 1301.8,1347.3 1306.2,1346.1 1309.8,1315.7 1313.9,1313.6 1317.9,1325.5 1321.8,1328.2 1324.1,1336.6 1328,1354.5 1332.1,1359.5 1336.1,1348.8 1339.8,1341.6 1343.8,1335 1347.9,1335.4 1351.8,1339.8 1354.1,1335.4 1358,1332.3 1362,1366.2 1366.1,1364.8 1370,1371.1 1373.8,1362.1 1378,1360.7 1380.4,1354.6 1384.3,1355 1388.4,1361.6 1392.3,1366.2 1396.4,1363.4 1400,1363.4 1404.1,1365.2 1408,1363 1410.7,1365.2 1414.3,1363.4 1417.9,1352.9 1421.8,1345.2 1425.9,1347.3 1429.8,1346.4 1433.9,1341.2 1436.2,1344.8 1440.2,1340.7 1444.3,1326.4 1447.9,1318.9 1452.1,1322.9 1455.9,1328.2 1460.2,1322.3 1463.9,1327.3 1466.1,1317.9 1470.2,1316.6 1474.1,1320.5 1478,1343.8 1482.1,1335.4 1486.1,1335 1489.8,1320.7 1494.1,1325.5 1500,1333 1503.9,1311.8 1508,1308 1512.1,1303.2 1516.1,1301.4 1520.2,1306.8 1522.3,1308.6 1526.2,1304.6 1530,1308.6 1533.9,1306.8 1537.7,1305.4 1542,1295.9 1546.1,1297 1547.9,1303.6 1552,1303 1555.9,1308.9 1559.8,1309.8 1563.9,1327.1 1567.9,1330.4 1572,1331.2 1575.9,1333 1577.9,1338.8 1581.8,1333.6 1585.9,1294.3 1590.2,1294.1 1593.9,1307.7 1598.2,1316.1 1602,1315.5 1606.2,1300 1608,1287 1612.1,1275 1616.1,1284.8 1620.2,1275.9 1624.1,1272.3 1627.9,1267.9 1631.8,1275.5 1634.1,1280.4 1638,1256.6 1642.1,1241.1 1646.1,1222.3 1650,1195.9 1654.1,1212.9 1658.2,1215.5 1662.1,1221.8 1663.9,1222.3 1668,1218.4 1672,1230.9 1675.9,1241.1 1680,1262.1 1683.9,1241.6 1688,1254.1 1690.2,1250 1694.3,1278.9 1697.9,1258 1702,1266.6 1706.2,1260.4 1710,1254.8 1713.9,1231.6 1717.5,1222.7 1720.2,1210.2 1724.1,1224.5 1727.9,1225.9 1732.1,1222.7 1735.9,1233.4 1739.8,1227.7 1743.8,1220.9 1746.6,1225.9 1749.6,1227.7 1753.8,1232.7 1757.7,1237 1762.1,1237.9 1765.7,1244.1 1769.8,1254.8 1773.8,1242 1776.1,1247.3 1780,1249.6 1783.9,1246.8 1788,1245.9 1792.1,1247.9 1796.1,1245.5 1800,1240.7 1802,1247.3 1805.9,1244.1 1809.8,1244.1 1813.9,1251.4 1817.9,1266.4 1822,1272.7 1826.1,1268.8 1830,1285.2 1832.1,1299.5 1836.2,1294.1 1840.2,1279.8 1843.9,1266.4 1848.2,1272 1852,1276.8 1855.9,1269.1 1858,1282.7 1862.1,1287.1 1866.1,1296.1 1869.8,1304.8 1874.1,1294.6 1877.9,1306.8 1881.8,1318.4 1886.2,1319.1 1888,1320.5 1892,1305.4 1896.1,1325.5 1900.2,1329.8 1903.8,1311.6 1908,1292.3 1911.8,1283.6 1915.7,1283.9 1918,1279.1 1922,1283 1926.1,1273.6 1930,1262.1 1934.1,1250.9 1938,1256.8 1942.1,1270 1946.1,1269.3 1948.4,1267.9 1952.3,1261.6 1956.1,1269.1 1960.4,1263.8 1964.1,1267.3 1968,1262.1 1972,1258.9 1974.3,1253 1978.2,1259.8 1982,1257.7 1986.2,1270.5 1990,1274.1 1993.9,1280.9 1998,1273.6 2004.1,1267.5 2007.9,1278 2011.8,1288 2015.9,1282.1 2019.8,1286.1 2023.8,1276.8 2027.9,1280.4 2033.2,1271.4 2037.7,1275.5 2041.8,1268.2 2045.7,1276.8 2049.8,1285.2 2054.1,1308.4 2056.1,1304.5 2060,1287 2063.9,1289.3 2068,1282.7 2072,1281.2 2076.1,1261.6 2080.2,1259.8 2084.1,1269.6 2086.2,1274.1 2090,1272.7 2093.9,1253 2098,1253 2102,1261.2 2106.1,1248.8 2112.1,1253.6 2116.2,1253.6 2120.2,1257.1 2123.9,1261.1 2127.9,1267 2132,1266.1 2135.9,1270.9 2140,1283 2142.1,1277.1 2146.2,1279.8 2150.5,1288.9 2154.1,1282.5 2158.2,1286.1 2162.1,1294.3 2166.2,1305.9 2168,1306.8 2172.1,1315.7 2176.1,1314.8 2180,1320.2 2184.1,1317.5 2188,1319.6 2192.1,1324.6 2196.2,1322.3 2198,1323.2 2202.3,1317.3 2206.1,1330 2210.4,1326.8 2214.1,1326.8 2218,1307.1 2222,1277.3 2226.1,1283 2228.2,1272.9 2232,1277.3 2236.2,1262.5 2240,1263.4 2243.9,1274.1 2248,1275.5 2252,1295.5 2254.1,1320 2257.9,1312.1 2261.8,1317.5 2265.9,1339.6 2269.8,1315.2 2273.9,1325.5 2277.9,1311.2 2282,1309.8 2284.5,1302.3 2288.2,1316.1 2292.1,1315.2 2296.1,1306.2 2299.7,1307.9 2303.8,1330.2 2307.5,1324.8 2311.3,1345.4 2314.2,1358.7 2317.9,1349.1 2321.5,1349.8 2326.4,1347.8 2330,1355.1 2334.1,1345.9 2337.7,1345.4 2340.2,1332.8 2343.8,1326 2348.2,1315.1 2351.8,1314.4 2355.9,1294.5 2360.3,1301.8 2363.9,1296.9 2366.3,1288.5 2370,1272.2 2374.1,1281.7 2378,1278.8 2382.1,1276.3 2386.2,1280 2390.1,1277.6 2393.7,1271 2395.9,1257 2400.3,1261.8 2403.9,1250.9 2408,1231 2411.9,1258.2 2416,1254.5 2420.2,1257 2423.3,1273.9 2426.5,1285.3 2429.8,1288.9 2433.7,1289.2 2437.8,1280.7 2441.5,1283.6 2445.8,1290.4 2451.9,1262.5 2456,1283.6 2459.7,1303.5 2463.8,1302.5 2467.7,1300.6 2471.8,1298.9 2475.4,1282.4 2477.8,1284.1 2482.2,1272.7 2486.3,1293.3 2490,1301.8 2494.3,1297.4 2498.4,1316.3 2502.1,1333.3 2505.7,1376.2 2509.3,1366 2512.5,1360.4 2516.1,1372.6 2519.8,1378.1 2523.9,1406 2527.5,1420.1 2531.6,1413.3 2536,1390.3 2538.9,1419.3 2542.1,1466.6 2546.2,1518 2550.5,1517.5 2554.2,1512.2 2557.8,1555.8 2561.9,1542.9 2563.9,1547.1 2567.5,1529.6 2572.4,1497.6 2576,1501.7 2580.1,1503.7 2583.7,1506.6 2585.7,1511.4" fill="none" stroke="#000" stroke-width="2" stroke-linejoin="round"/><path d="M21 1113v-3h1V1113zM25 1113v-3h1V1113zM29 1113v-3h1V1113zM32 1113v-7h1V1113zM36 1113v-8h1V1113zM40 1113v-7h1V1113zM44 1113v-12h1V1113zM47 1113v-4h1V1113zM51 1113v-4h1V1113zM55 1113v-2h1V1113zM59 1113v-2h1V1113zM62 1113v-4h1V1113zM66 1113v-3h1V1113zM70 1113v-3h1V1113zM74 1113v-4h1V1113zM77 1113v-3h1V1113zM81 1113v-4h1V1113zM85 1113v-3h1V1113zM89 1113v-4h1V1113zM92 1113v-2h1V1113zM96 1113v-4h1V1113zM100 1113v-4h1V1113zM104 1113v-3h1V1113zM107 1113v-4h1V1113zM111 1113v-4h1V1113zM115 1113v-2h1V1113zM119 1113v-4h1V1113zM122 1113v-3h1V1113zM126 1113v-3h1V1113zM130 1113v-2h1V1113zM134 1113v-4h1V1113zM137 1113v-3h1V1113zM141 1113v-4h1V1113zM145 1113v-4h1V1113zM149 1113v-4h1V1113zM152 1113v-4h1V1113zM156 1113v-3h1V1113zM160 1113v-4h1V1113zM164 1113v-3h1V1113zM167 1113v-4h1V1113zM171 1113v-4h1V1113zM175 1113v-2h1V1113zM179 1113v-2h1V1113zM182 1113v-3h1V1113zM186 1113v-4h1V1113zM190 1113v-3h1V1113zM194 1113v-4h1V1113zM197 1113v-3h1V1113zM201 1113v-3h1V1113zM205 1113v-3h1V1113zM209 1113v-3h1V1113zM212 1113v-3h1V1113zM216 1113v-3h1V1113zM220 1113v-88h1V1113zM224 1113v-40h1V1113zM227 1113v-36h1V1113zM231 1113v-18h1V1113zM235 1113v-19h1V1113zM239 1113v-34h1V1113zM242 1113v-17h1V1113zM246 1113v-11h1V1113zM250 1113v-6h1V1113zM254 1113v-14h1V1113zM257 1113v-28h1V1113zM261 1113v-12h1V1113zM265 1113v-11h1V1113zM269 1113v-12h1V1113zM272 1113v-12h1V1113zM276 1113v-7h1V1113zM280 1113v-55h1V1113zM284 1113v-16h1V1113zM287 1113v-10h1V1113zM291 1113v-14h1V1113zM295 1113v-7h1V1113zM299 1113v-23h1V1113zM302 1113v-7h1V1113zM306 1113v-102h1V1113zM310 1113v-44h1V1113zM314 1113v-21h1V1113zM317 1113v-34h1V1113zM321 1113v-47h1V1113zM325 1113v-24h1V1113zM329 1113v-9h1V1113zM332 1113v-13h1V1113zM336 1113v-20h1V1113zM340 1113v-13h1V1113zM344 1113v-13h1V1113zM347 1113v-8h1V1113zM351 1113v-9h1V1113zM355 1113v-8h1V1113zM359 1113v-12h1V1113zM362 1113v-10h1V1113zM366 1113v-5h1V1113zM370 1113v-7h1V1113zM374 1113v-4h1V1113zM377 1113v-7h1V1113zM381 1113v-3h1V1113zM385 1113v-10h1V1113zM389 1113v-40h1V1113zM393 1113v-40h1V1113zM396 1113v-8h1V1113zM400 1113v-9h1V1113zM404 1113v-2h1V1113zM408 1113v-56h1V1113zM411 1113v-11h1V1113zM415 1113v-34h1V1113zM419 1113v-10h1V1113zM423 1113v-12h1V1113zM426 1113v-9h1V1113zM430 1113v-15h1V1113zM434 1113v-13h1V1113zM438 1113v-10h1V1113zM441 1113v-15h1V1113zM445 1113v-43h1V1113zM449 1113v-54h1V1113zM453 1113v-21h1V1113zM456 1113v-8h1V1113zM460 1113v-10h1V1113zM464 1113v-15h1V1113zM468 1113v-8h1V1113zM471 1113v-9h1V1113zM475 1113v-15h1V1113zM479 1113v-7h1V1113zM483 1113v-9h1V1113zM486 1113v-10h1V1113zM490 1113v-8h1V1113zM494 1113v-9h1V1113zM498 1113v-9h1V1113zM501 1113v-8h1V1113zM505 1113v-15h1V1113zM509 1113v-75h1V1113zM513 1113v-24h1V1113zM516 1113v-13h1V1113zM520 1113v-9h1V1113zM524 1113v-13h1V1113zM528 1113v-12h1V1113zM531 1113v-13h1V1113zM535 1113v-11h1V1113zM539 1113v-8h1V1113zM543 1113v-12h1V1113zM546 1113v-13h1V1113zM550 1113v-74h1V1113zM554 1113v-34h1V1113zM558 1113v-16h1V1113zM561 1113v-16h1V1113zM565 1113v-12h1V1113zM569 1113v-10h1V1113zM573 1113v-11h1V1113zM576 1113v-8h1V1113zM580 1113v-12h1V1113zM584 1113v-10h1V1113zM588 1113v-40h1V1113zM591 1113v-41h1V1113zM595 1113v-40h1V1113zM599 1113v-264h1V1113zM603 1113v-123h1V1113zM606 1113v-40h1V1113zM610 1113v-191h1V1113zM614 1113v-36h1V1113zM618 1113v-45h1V1113zM621 1113v-20h1V1113zM625 1113v-16h1V1113zM629 1113v-41h1V1113zM633 1113v-16h1V1113zM636 1113v-18h1V1113zM640 1113v-47h1V1113zM644 1113v-21h1V1113zM648 1113v-41h1V1113zM651 1113v-28h1V1113zM655 1113v-34h1V1113zM659 1113v-29h1V1113zM663 1113v-31h1V1113zM666 1113v-18h1V1113zM670 1113v-24h1V1113zM674 1113v-30h1V1113zM678 1113v-45h1V1113zM681 1113v-77h1V1113zM685 1113v-31h1V1113zM689 1113v-49h1V1113zM693 1113v-25h1V1113zM696 1113v-28h1V1113zM700 1113v-19h1V1113zM704 1113v-16h1V1113zM708 1113v-21h1V1113zM711 1113v-19h1V1113zM715 1113v-7h1V1113zM719 1113v-5h1V1113zM723 1113v-11h1V1113zM726 1113v-12h1V1113zM730 1113v-6h1V1113zM734 1113v-11h1V1113zM738 1113v-8h1V1113zM741 1113v-6h1V1113zM745 1113v-7h1V1113zM749 1113v-10h1V1113zM753 1113v-11h1V1113zM757 1113v-5h1V1113zM760 1113v-9h1V1113zM764 1113v-5h1V1113zM768 1113v-10h1V1113zM772 1113v-7h1V1113zM775 1113v-11h1V1113zM779 1113v-12h1V1113zM783 1113v-9h1V1113zM787 1113v-12h1V1113zM790 1113v-7h1V1113zM794 1113v-6h1V1113zM798 1113v-9h1V1113zM802 1113v-5h1V1113zM805 1113v-6h1V1113zM809 1113v-8h1V1113zM813 1113v-17h1V1113zM817 1113v-33h1V1113zM820 1113v-24h1V1113zM824 1113v-16h1V1113zM828 1113v-9h1V1113zM832 1113v-6h1V1113zM835 1113v-5h1V1113zM839 1113v-11h1V1113zM843 1113v-17h1V1113zM847 1113v-7h1V1113zM850 1113v-13h1V1113zM854 1113v-12h1V1113zM858 1113v-24h1V1113zM862 1113v-11h1V1113zM865 1113v-28h1V1113zM869 1113v-45h1V1113zM873 1113v-8h1V1113zM877 1113v-8h1V1113zM880 1113v-9h1V1113zM884 1113v-10h1V1113zM888 1113v-9h1V1113zM892 1113v-9h1V1113zM895 1113v-9h1V1113zM899 1113v-12h1V1113zM903 1113v-114h1V1113zM907 1113v-68h1V1113zM910 1113v-24h1V1113zM914 1113v-18h1V1113zM918 1113v-19h1V1113zM922 1113v-34h1V1113zM925 1113v-15h1V1113zM929 1113v-9h1V1113zM933 1113v-53h1V1113zM937 1113v-113h1V1113zM940 1113v-107h1V1113zM944 1113v-211h1V1113zM948 1113v-59h1V1113zM952 1113v-65h1V1113zM955 1113v-22h1V1113zM959 1113v-24h1V1113zM963 1113v-17h1V1113zM967 1113v-101h1V1113zM970 1113v-20h1V1113zM974 1113v-22h1V1113zM978 1113v-22h1V1113zM982 1113v-25h1V1113zM985 1113v-25h1V1113zM989 1113v-28h1V1113zM993 1113v-23h1V1113zM997 1113v-19h1V1113zM1000 1113v-14h1V1113zM1004 1113v-8h1V1113zM1008 1113v-23h1V1113zM1012 1113v-19h1V1113zM1015 1113v-38h1V1113zM1019 1113v-10h1V1113zM1023 1113v-7h1V1113zM1027 1113v-25h1V1113zM1030 1113v-7h1V1113zM1034 1113v-19h1V1113zM1038 1113v-15h1V1113zM1042 1113v-12h1V1113zM1045 1113v-9h1V1113zM1049 1113v-9h1V1113zM1053 1113v-29h1V1113zM1057 1113v-5h1V1113zM1060 1113v-8h1V1113zM1064 1113v-9h1V1113zM1068 1113v-5h1V1113zM1072 1113v-9h1V1113zM1075 1113v-19h1V1113zM1079 1113v-15h1V1113zM1083 1113v-24h1V1113zM1087 1113v-9h1V1113zM1090 1113v-5h1V1113zM1094 1113v-9h1V1113zM1098 1113v-8h1V1113zM1102 1113v-10h1V1113zM1105 1113v-7h1V1113zM1109 1113v-10h1V1113zM1113 1113v-10h1V1113zM1117 1113v-19h1V1113zM1121 1113v-5h1V1113zM1124 1113v-19h1V1113zM1128 1113v-5h1V1113zM1132 1113v-10h1V1113zM1136 1113v-12h1V1113zM1139 1113v-52h1V1113zM1143 1113v-16h1V1113zM1147 1113v-7h1V1113zM1151 1113v-8h1V1113zM1154 1113v-38h1V1113zM1158 1113v-75h1V1113zM1162 1113v-91h1V1113zM1166 1113v-9h1V1113zM1169 1113v-30h1V1113zM1173 1113v-31h1V1113zM1177 1113v-7h1V1113zM1181 1113v-17h1V1113zM1184 1113v-15h1V1113zM1188 1113v-8h1V1113zM1192 1113v-7h1V1113zM1196 1113v-28h1V1113zM1199 1113v-8h1V1113zM1203 1113v-9h1V1113zM1207 1113v-7h1V1113zM1211 1113v-8h1V1113zM1214 1113v-10h1V1113zM1218 1113v-5h1V1113zM1222 1113v-9h1V1113zM1226 1113v-22h1V1113zM1229 1113v-10h1V1113zM1233 1113v-7h1V1113zM1237 1113v-7h1V1113zM1241 1113v-11h1V1113zM1244 1113v-20h1V1113zM1248 1113v-20h1V1113zM1252 1113v-12h1V1113zM1256 1113v-7h1V1113zM1259 1113v-6h1V1113zM1263 1113v-8h1V1113zM1267 1113v-10h1V1113zM1271 1113v-6h1V1113zM1274 1113v-7h1V1113zM1278 1113v-31h1V1113zM1282 1113v-7h1V1113zM1286 1113v-11h1V1113zM1289 1113v-8h1V1113zM1293 1113v-11h1V1113zM1297 1113v-6h1V1113zM1301 1113v-7h1V1113zM1304 1113v-10h1V1113zM1308 1113v-80h1V1113zM1312 1113v-41h1V1113zM1316 1113v-23h1V1113zM1319 1113v-11h1V1113zM1323 1113v-8h1V1113zM1327 1113v-21h1V1113zM1331 1113v-7h1V1113zM1334 1113v-14h1V1113zM1338 1113v-6h1V1113zM1342 1113v-9h1V1113zM1346 1113v-6h1V1113zM1349 1113v-11h1V1113zM1353 1113v-11h1V1113zM1357 1113v-6h1V1113zM1361 1113v-39h1V1113zM1364 1113v-7h1V1113zM1368 1113v-13h1V1113zM1372 1113v-11h1V1113zM1376 1113v-9h1V1113zM1379 1113v-11h1V1113zM1383 1113v-7h1V1113zM1387 1113v-6h1V1113zM1391 1113v-12h1V1113zM1394 1113v-7h1V1113zM1398 1113v-11h1V1113zM1402 1113v-7h1V1113zM1406 1113v-7h1V1113zM1409 1113v-8h1V1113zM1413 1113v-8h1V1113zM1417 1113v-34h1V1113zM1421 1113v-22h1V1113zM1424 1113v-8h1V1113zM1428 1113v-11h1V1113zM1432 1113v-6h1V1113zM1436 1113v-5h1V1113zM1439 1113v-12h1V1113zM1443 1113v-78h1V1113zM1447 1113v-24h1V1113zM1451 1113v-14h1V1113zM1454 1113v-11h1V1113zM1458 1113v-13h1V1113zM1462 1113v-12h1V1113zM1466 1113v-51h1V1113zM1469 1113v-14h1V1113zM1473 1113v-8h1V1113zM1477 1113v-16h1V1113zM1481 1113v-12h1V1113zM1484 1113v-11h1V1113zM1488 1113v-13h1V1113zM1492 1113v-7h1V1113zM1496 1113v-10h1V1113zM1500 1113v-11h1V1113zM1503 1113v-59h1V1113zM1507 1113v-26h1V1113zM1511 1113v-21h1V1113zM1515 1113v-25h1V1113zM1518 1113v-12h1V1113zM1522 1113v-10h1V1113zM1526 1113v-9h1V1113zM1530 1113v-7h1V1113zM1533 1113v-7h1V1113zM1537 1113v-15h1V1113zM1541 1113v-37h1V1113zM1545 1113v-19h1V1113zM1548 1113v-7h1V1113zM1552 1113v-5h1V1113zM1556 1113v-9h1V1113zM1560 1113v-7h1V1113zM1563 1113v-13h1V1113zM1567 1113v-11h1V1113zM1571 1113v-5h1V1113zM1575 1113v-11h1V1113zM1578 1113v-10h1V1113zM1582 1113v-11h1V1113zM1586 1113v-49h1V1113zM1590 1113v-22h1V1113zM1593 1113v-11h1V1113zM1597 1113v-11h1V1113zM1601 1113v-11h1V1113zM1605 1113v-76h1V1113zM1608 1113v-65h1V1113zM1612 1113v-78h1V1113zM1616 1113v-21h1V1113zM1620 1113v-38h1V1113zM1623 1113v-12h1V1113zM1627 1113v-20h1V1113zM1631 1113v-10h1V1113zM1635 1113v-9h1V1113zM1638 1113v-59h1V1113zM1642 1113v-122h1V1113zM1646 1113v-101h1V1113zM1650 1113v-147h1V1113zM1653 1113v-79h1V1113zM1657 1113v-54h1V1113zM1661 1113v-28h1V1113zM1665 1113v-20h1V1113zM1668 1113v-5h1V1113zM1672 1113v-14h1V1113zM1676 1113v-14h1V1113zM1680 1113v-28h1V1113zM1683 1113v-18h1V1113zM1687 1113v-15h1V1113zM1691 1113v-18h1V1113zM1695 1113v-22h1V1113zM1698 1113v-14h1V1113zM1702 1113v-10h1V1113zM1706 1113v-9h1V1113zM1710 1113v-20h1V1113zM1713 1113v-48h1V1113zM1717 1113v-47h1V1113zM1721 1113v-41h1V1113zM1725 1113v-28h1V1113zM1728 1113v-10h1V1113zM1732 1113v-15h1V1113zM1736 1113v-16h1V1113zM1740 1113v-13h1V1113zM1743 1113v-14h1V1113zM1747 1113v-5h1V1113zM1751 1113v-10h1V1113zM1755 1113v-11h1V1113zM1758 1113v-6h1V1113zM1762 1113v-7h1V1113zM1766 1113v-10h1V1113zM1770 1113v-18h1V1113zM1773 1113v-9h1V1113zM1777 1113v-12h1V1113zM1781 1113v-12h1V1113zM1785 1113v-8h1V1113zM1788 1113v-12h1V1113zM1792 1113v-9h1V1113zM1796 1113v-7h1V1113zM1800 1113v-24h1V1113zM1803 1113v-12h1V1113zM1807 1113v-7h1V1113zM1811 1113v-11h1V1113zM1815 1113v-11h1V1113zM1818 1113v-11h1V1113zM1822 1113v-8h1V1113zM1826 1113v-10h1V1113zM1830 1113v-11h1V1113zM1833 1113v-15h1V1113zM1837 1113v-7h1V1113zM1841 1113v-6h1V1113zM1845 1113v-9h1V1113zM1848 1113v-10h1V1113zM1852 1113v-11h1V1113zM1856 1113v-6h1V1113zM1860 1113v-11h1V1113zM1864 1113v-11h1V1113zM1867 1113v-11h1V1113zM1871 1113v-11h1V1113zM1875 1113v-5h1V1113zM1879 1113v-9h1V1113zM1882 1113v-12h1V1113zM1886 1113v-11h1V1113zM1890 1113v-5h1V1113zM1894 1113v-7h1V1113zM1897 1113v-7h1V1113zM1901 1113v-19h1V1113zM1905 1113v-75h1V1113zM1909 1113v-9h1V1113zM1912 1113v-20h1V1113zM1916 1113v-17h1V1113zM1920 1113v-8h1V1113zM1924 1113v-8h1V1113zM1927 1113v-62h1V1113zM1931 1113v-10h1V1113zM1935 1113v-54h1V1113zM1939 1113v-5h1V1113zM1942 1113v-16h1V1113zM1946 1113v-5h1V1113zM1950 1113v-17h1V1113zM1954 1113v-6h1V1113zM1957 1113v-6h1V1113zM1961 1113v-5h1V1113zM1965 1113v-12h1V1113zM1969 1113v-50h1V1113zM1972 1113v-25h1V1113zM1976 1113v-11h1V1113zM1980 1113v-16h1V1113zM1984 1113v-23h1V1113zM1987 1113v-6h1V1113zM1991 1113v-20h1V1113zM1995 1113v-9h1V1113zM1999 1113v-7h1V1113zM2002 1113v-7h1V1113zM2006 1113v-7h1V1113zM2010 1113v-10h1V1113zM2014 1113v-9h1V1113zM2017 1113v-8h1V1113zM2021 1113v-6h1V1113zM2025 1113v-7h1V1113zM2029 1113v-6h1V1113zM2032 1113v-60h1V1113zM2036 1113v-9h1V1113zM2040 1113v-18h1V1113zM2044 1113v-10h1V1113zM2047 1113v-8h1V1113zM2051 1113v-18h1V1113zM2055 1113v-25h1V1113zM2059 1113v-20h1V1113zM2062 1113v-6h1V1113zM2066 1113v-6h1V1113zM2070 1113v-15h1V1113zM2074 1113v-143h1V1113zM2077 1113v-38h1V1113zM2081 1113v-16h1V1113zM2085 1113v-8h1V1113zM2089 1113v-19h1V1113zM2092 1113v-79h1V1113zM2096 1113v-18h1V1113zM2100 1113v-9h1V1113zM2104 1113v-40h1V1113zM2107 1113v-18h1V1113zM2111 1113v-18h1V1113zM2115 1113v-24h1V1113zM2119 1113v-10h1V1113zM2122 1113v-8h1V1113zM2126 1113v-11h1V1113zM2130 1113v-9h1V1113zM2134 1113v-8h1V1113zM2137 1113v-12h1V1113zM2141 1113v-8h1V1113zM2145 1113v-8h1V1113zM2149 1113v-10h1V1113zM2152 1113v-8h1V1113zM2156 1113v-10h1V1113zM2160 1113v-12h1V1113zM2164 1113v-13h1V1113zM2167 1113v-8h1V1113zM2171 1113v-7h1V1113zM2175 1113v-9h1V1113zM2179 1113v-10h1V1113zM2182 1113v-12h1V1113zM2186 1113v-6h1V1113zM2190 1113v-8h1V1113zM2194 1113v-8h1V1113zM2197 1113v-11h1V1113zM2201 1113v-12h1V1113zM2205 1113v-8h1V1113zM2209 1113v-11h1V1113zM2212 1113v-22h1V1113zM2216 1113v-16h1V1113zM2220 1113v-46h1V1113zM2224 1113v-24h1V1113zM2228 1113v-25h1V1113zM2231 1113v-14h1V1113zM2235 1113v-24h1V1113zM2239 1113v-19h1V1113zM2243 1113v-11h1V1113zM2246 1113v-7h1V1113zM2250 1113v-8h1V1113zM2254 1113v-16h1V1113zM2258 1113v-6h1V1113zM2261 1113v-11h1V1113zM2265 1113v-14h1V1113zM2269 1113v-10h1V1113zM2273 1113v-11h1V1113zM2276 1113v-12h1V1113zM2280 1113v-11h1V1113zM2284 1113v-10h1V1113zM2288 1113v-10h1V1113zM2291 1113v-9h1V1113zM2295 1113v-6h1V1113zM2299 1113v-9h1V1113zM2303 1113v-11h1V1113zM2306 1113v-44h1V1113zM2310 1113v-16h1V1113zM2314 1113v-5h1V1113zM2318 1113v-6h1V1113zM2321 1113v-10h1V1113zM2325 1113v-5h1V1113zM2329 1113v-6h1V1113zM2333 1113v-6h1V1113zM2336 1113v-11h1V1113zM2340 1113v-6h1V1113zM2344 1113v-5h1V1113zM2348 1113v-22h1V1113zM2351 1113v-11h1V1113zM2355 1113v-24h1V1113zM2359 1113v-26h1V1113zM2363 1113v-6h1V1113zM2366 1113v-33h1V1113zM2370 1113v-48h1V1113zM2374 1113v-12h1V1113zM2378 1113v-11h1V1113zM2381 1113v-10h1V1113zM2385 1113v-11h1V1113zM2389 1113v-12h1V1113zM2393 1113v-9h1V1113zM2396 1113v-31h1V1113zM2400 1113v-15h1V1113zM2404 1113v-50h1V1113zM2408 1113v-144h1V1113zM2411 1113v-42h1V1113zM2415 1113v-27h1V1113zM2419 1113v-20h1V1113zM2423 1113v-11h1V1113zM2426 1113v-5h1V1113zM2430 1113v-10h1V1113zM2434 1113v-9h1V1113zM2438 1113v-10h1V1113zM2441 1113v-6h1V1113zM2445 1113v-18h1V1113zM2449 1113v-10h1V1113zM2453 1113v-37h1V1113zM2456 1113v-15h1V1113zM2460 1113v-18h1V1113zM2464 1113v-18h1V1113zM2468 1113v-12h1V1113zM2471 1113v-5h1V1113zM2475 1113v-7h1V1113zM2479 1113v-9h1V1113zM2483 1113v-23h1V1113zM2486 1113v-17h1V1113zM2490 1113v-23h1V1113zM2494 1113v-11h1V1113zM2498 1113v-7h1V1113zM2501 1113v-21h1V1113zM2505 1113v-32h1V1113zM2509 1113v-6h1V1113zM2513 1113v-7h1V1113zM2516 1113v-21h1V1113zM2520 1113v-9h1V1113zM2524 1113v-10h1V1113zM2528 1113v-8h1V1113zM2531 1113v-17h1V1113zM2535 1113v-25h1V1113zM2539 1113v-18h1V1113zM2543 1113v-31h1V1113zM2546 1113v-32h1V1113zM2550 1113v-44h1V1113zM2554 1113v-15h1V1113zM2558 1113v-17h1V1113zM2561 1113v-15h1V1113zM2565 1113v-8h1V1113zM2569 1113v-18h1V1113zM2573 1113v-21h1V1113zM2576 1113v-14h1V1113zM2580 1113v-8h1V1113zM2584 1113v-7h1V1113z" fill="#066153" shape-rendering="crispEdges"/><g clip-path="url(#cp)" shape-rendering="crispEdges"><path d="M20 982h2V995h-2zM18 989h6v2h-6zM24 976h2V993h-2zM22 985h6v2h-6zM28 970h2V986h-2zM26 979h6v2h-6zM46 930h2V954h-2zM44 943h6v2h-6zM54 940h2V951h-2zM52 945h6v2h-6zM58 940h2V953h-2zM56 950h6v2h-6zM65 951h2V969h-2zM63 962h6v2h-6zM69 963h2V973h-2zM67 968h6v2h-6zM73 957h2V975h-2zM71 968h6v2h-6zM76 969h2V984h-2zM74 980h6v2h-6zM80 968h2V987h-2zM78 982h6v2h-6zM84 981h2V1004h-2zM82 1000h6v2h-6zM91 981h2V1005h-2zM89 994h6v2h-6zM95 984h2V998h-2zM93 994h6v2h-6zM106 965h2V985h-2zM104 977h6v2h-6zM110 971h2V988h-2zM108 983h6v2h-6zM114 973h2V989h-2zM112 983h6v2h-6zM118 969h2V989h-2zM116 985h6v2h-6zM140 957h2V969h-2zM138 963h6v2h-6zM148 961h2V972h-2zM146 967h6v2h-6zM151 965h2V979h-2zM149 976h6v2h-6zM155 967h2V983h-2zM153 979h6v2h-6zM170 947h2V960h-2zM168 955h6v2h-6zM174 950h2V966h-2zM172 959h6v2h-6zM178 958h2V972h-2zM176 968h6v2h-6zM181 958h2V980h-2zM179 974h6v2h-6zM193 951h2V972h-2zM191 967h6v2h-6zM196 952h2V973h-2zM194 968h6v2h-6zM204 958h2V969h-2zM202 966h6v2h-6zM215 956h2V970h-2zM213 963h6v2h-6zM223 902h2V912h-2zM221 909h6v2h-6zM230 874h2V895h-2zM228 891h6v2h-6zM241 864h2V874h-2zM239 872h6v2h-6zM245 864h2V879h-2zM243 872h6v2h-6zM249 859h2V875h-2zM247 872h6v2h-6zM260 857h2V872h-2zM258 868h6v2h-6zM264 865h2V884h-2zM262 881h6v2h-6zM275 866h2V876h-2zM273 872h6v2h-6zM283 845h2V867h-2zM281 864h6v2h-6zM286 858h2V870h-2zM284 865h6v2h-6zM290 860h2V872h-2zM288 866h6v2h-6zM294 854h2V870h-2zM292 867h6v2h-6zM301 850h2V861h-2zM299 858h6v2h-6zM309 813h2V825h-2zM307 821h6v2h-6zM313 823h2V837h-2zM311 834h6v2h-6zM324 809h2V831h-2zM322 826h6v2h-6zM328 811h2V834h-2zM326 828h6v2h-6zM331 829h2V843h-2zM329 838h6v2h-6zM335 837h2V869h-2zM333 862h6v2h-6zM343 852h2V872h-2zM341 864h6v2h-6zM346 857h2V870h-2zM344 864h6v2h-6zM354 856h2V876h-2zM352 871h6v2h-6zM365 839h2V855h-2zM363 847h6v2h-6zM369 844h2V858h-2zM367 852h6v2h-6zM373 849h2V858h-2zM371 855h6v2h-6zM376 849h2V861h-2zM374 857h6v2h-6zM380 846h2V864h-2zM378 858h6v2h-6zM384 849h2V863h-2zM382 858h6v2h-6zM399 824h2V840h-2zM397 836h6v2h-6zM403 827h2V848h-2zM401 841h6v2h-6zM414 803h2V821h-2zM412 817h6v2h-6zM418 805h2V827h-2zM416 818h6v2h-6zM422 820h2V839h-2zM420 835h6v2h-6zM425 829h2V840h-2zM423 836h6v2h-6zM444 816h2V843h-2zM442 839h6v2h-6zM452 815h2V829h-2zM450 825h6v2h-6zM455 825h2V838h-2zM453 832h6v2h-6zM459 823h2V839h-2zM457 833h6v2h-6zM463 834h2V854h-2zM461 850h6v2h-6zM474 842h2V862h-2zM472 857h6v2h-6zM482 845h2V859h-2zM480 856h6v2h-6zM485 845h2V865h-2zM483 857h6v2h-6zM493 849h2V865h-2zM491 860h6v2h-6zM497 855h2V866h-2zM495 860h6v2h-6zM504 856h2V869h-2zM502 866h6v2h-6zM512 834h2V849h-2zM510 843h6v2h-6zM515 832h2V848h-2zM513 844h6v2h-6zM523 841h2V856h-2zM521 849h6v2h-6zM527 847h2V858h-2zM525 852h6v2h-6zM534 845h2V859h-2zM532 853h6v2h-6zM538 844h2V862h-2zM536 855h6v2h-6zM542 848h2V863h-2zM540 857h6v2h-6zM557 828h2V870h-2zM555 863h6v2h-6zM560 862h2V895h-2zM558 890h6v2h-6zM605 783h2V798h-2zM603 794h6v2h-6zM613 764h2V783h-2zM611 777h6v2h-6zM617 765h2V783h-2zM615 778h6v2h-6zM620 778h2V797h-2zM618 793h6v2h-6zM624 783h2V807h-2zM622 796h6v2h-6zM628 784h2V802h-2zM626 797h6v2h-6zM632 792h2V802h-2zM630 800h6v2h-6zM635 788h2V809h-2zM633 802h6v2h-6zM643 777h2V792h-2zM641 789h6v2h-6zM647 781h2V800h-2zM645 796h6v2h-6zM650 796h2V813h-2zM648 808h6v2h-6zM662 791h2V807h-2zM660 802h6v2h-6zM665 794h2V813h-2zM663 808h6v2h-6zM673 797h2V814h-2zM671 806h6v2h-6zM684 766h2V782h-2zM682 776h6v2h-6zM688 778h2V797h-2zM686 791h6v2h-6zM692 793h2V816h-2zM690 811h6v2h-6zM695 811h2V834h-2zM693 826h6v2h-6zM703 815h2V832h-2zM701 825h6v2h-6zM714 813h2V834h-2zM712 825h6v2h-6zM718 817h2V841h-2zM716 836h6v2h-6zM725 830h2V845h-2zM723 839h6v2h-6zM729 838h2V852h-2zM727 849h6v2h-6zM740 826h2V847h-2zM738 842h6v2h-6zM756 827h2V839h-2zM754 834h6v2h-6zM759 826h2V839h-2zM757 836h6v2h-6zM763 838h2V854h-2zM761 852h6v2h-6zM767 846h2V868h-2zM765 862h6v2h-6zM771 856h2V869h-2zM769 864h6v2h-6zM774 847h2V872h-2zM772 865h6v2h-6zM786 849h2V863h-2zM784 860h6v2h-6zM797 848h2V862h-2zM795 859h6v2h-6zM801 845h2V866h-2zM799 861h6v2h-6zM804 858h2V874h-2zM802 871h6v2h-6zM831 792h2V811h-2zM829 805h6v2h-6zM838 785h2V806h-2zM836 803h6v2h-6zM846 792h2V805h-2zM844 799h6v2h-6zM849 792h2V804h-2zM847 799h6v2h-6zM861 780h2V794h-2zM859 788h6v2h-6zM872 762h2V782h-2zM870 773h6v2h-6zM876 773h2V786h-2zM874 780h6v2h-6zM879 773h2V787h-2zM877 782h6v2h-6zM883 771h2V794h-2zM881 789h6v2h-6zM891 772h2V793h-2zM889 786h6v2h-6zM898 774h2V788h-2zM896 785h6v2h-6zM909 745h2V761h-2zM907 756h6v2h-6zM913 740h2V762h-2zM911 756h6v2h-6zM921 751h2V766h-2zM919 761h6v2h-6zM928 747h2V759h-2zM926 757h6v2h-6zM932 757h2V800h-2zM930 793h6v2h-6zM936 794h2V830h-2zM934 825h6v2h-6zM954 748h2V761h-2zM952 754h6v2h-6zM969 726h2V740h-2zM967 735h6v2h-6zM977 722h2V742h-2zM975 737h6v2h-6zM981 734h2V750h-2zM979 743h6v2h-6zM984 738h2V761h-2zM982 752h6v2h-6zM996 717h2V735h-2zM994 731h6v2h-6zM999 731h2V743h-2zM997 738h6v2h-6zM1003 734h2V746h-2zM1001 743h6v2h-6zM1014 719h2V737h-2zM1012 734h6v2h-6zM1018 729h2V741h-2zM1016 738h6v2h-6zM1026 727h2V744h-2zM1024 738h6v2h-6zM1037 727h2V740h-2zM1035 734h6v2h-6zM1052 722h2V741h-2zM1050 734h6v2h-6zM1056 733h2V743h-2zM1054 739h6v2h-6zM1059 729h2V743h-2zM1057 740h6v2h-6zM1063 738h2V751h-2zM1061 746h6v2h-6zM1067 736h2V757h-2zM1065 746h6v2h-6zM1071 745h2V759h-2zM1069 755h6v2h-6zM1074 751h2V761h-2zM1072 756h6v2h-6zM1089 733h2V756h-2zM1087 750h6v2h-6zM1093 742h2V756h-2zM1091 750h6v2h-6zM1097 749h2V760h-2zM1095 757h6v2h-6zM1112 739h2V753h-2zM1110 747h6v2h-6zM1116 738h2V753h-2zM1114 748h6v2h-6zM1123 725h2V744h-2zM1121 739h6v2h-6zM1127 730h2V746h-2zM1125 740h6v2h-6zM1135 730h2V742h-2zM1133 739h6v2h-6zM1138 738h2V772h-2zM1136 766h6v2h-6zM1176 683h2V699h-2zM1174 693h6v2h-6zM1191 681h2V706h-2zM1189 694h6v2h-6zM1206 672h2V695h-2zM1204 688h6v2h-6zM1210 681h2V703h-2zM1208 695h6v2h-6zM1217 695h2V709h-2zM1215 706h6v2h-6zM1225 700h2V713h-2zM1223 708h6v2h-6zM1228 704h2V715h-2zM1226 710h6v2h-6zM1232 703h2V716h-2zM1230 712h6v2h-6zM1240 706h2V715h-2zM1238 711h6v2h-6zM1243 712h2V730h-2zM1241 722h6v2h-6zM1258 695h2V711h-2zM1256 705h6v2h-6zM1262 705h2V718h-2zM1260 713h6v2h-6zM1266 698h2V718h-2zM1264 714h6v2h-6zM1270 710h2V724h-2zM1268 717h6v2h-6zM1273 709h2V727h-2zM1271 719h6v2h-6zM1285 690h2V704h-2zM1283 698h6v2h-6zM1288 692h2V701h-2zM1286 698h6v2h-6zM1292 696h2V717h-2zM1290 714h6v2h-6zM1300 697h2V712h-2zM1298 709h6v2h-6zM1303 703h2V714h-2zM1301 710h6v2h-6zM1318 674h2V696h-2zM1316 688h6v2h-6zM1322 682h2V702h-2zM1320 693h6v2h-6zM1326 692h2V720h-2zM1324 712h6v2h-6zM1330 704h2V724h-2zM1328 715h6v2h-6zM1345 689h2V699h-2zM1343 695h6v2h-6zM1348 686h2V705h-2zM1346 696h6v2h-6zM1360 706h2V724h-2zM1358 720h6v2h-6zM1363 710h2V724h-2zM1361 720h6v2h-6zM1367 715h2V730h-2zM1365 725h6v2h-6zM1375 702h2V721h-2zM1373 716h6v2h-6zM1382 705h2V720h-2zM1380 713h6v2h-6zM1386 711h2V722h-2zM1384 718h6v2h-6zM1390 716h2V727h-2zM1388 723h6v2h-6zM1393 715h2V730h-2zM1391 723h6v2h-6zM1405 715h2V730h-2zM1403 723h6v2h-6zM1408 715h2V731h-2zM1406 725h6v2h-6zM1412 713h2V735h-2zM1410 725h6v2h-6zM1423 697h2V719h-2zM1421 709h6v2h-6zM1435 695h2V714h-2zM1433 705h6v2h-6zM1450 678h2V694h-2zM1448 687h6v2h-6zM1453 688h2V697h-2zM1451 693h6v2h-6zM1461 677h2V695h-2zM1459 691h6v2h-6zM1472 667h2V688h-2zM1470 681h6v2h-6zM1476 678h2V704h-2zM1474 701h6v2h-6zM1483 676h2V701h-2zM1481 693h6v2h-6zM1491 672h2V690h-2zM1489 681h6v2h-6zM1495 674h2V694h-2zM1493 685h6v2h-6zM1499 676h2V693h-2zM1497 690h6v2h-6zM1517 655h2V666h-2zM1515 661h6v2h-6zM1521 653h2V670h-2zM1519 661h6v2h-6zM1529 656h2V667h-2zM1527 662h6v2h-6zM1544 648h2V661h-2zM1542 655h6v2h-6zM1547 648h2V659h-2zM1545 656h6v2h-6zM1555 651h2V666h-2zM1553 660h6v2h-6zM1559 651h2V666h-2zM1557 660h6v2h-6zM1562 660h2V680h-2zM1560 674h6v2h-6zM1566 668h2V680h-2zM1564 677h6v2h-6zM1570 671h2V681h-2zM1568 678h6v2h-6zM1574 672h2V686h-2zM1572 680h6v2h-6zM1577 677h2V687h-2zM1575 684h6v2h-6zM1589 627h2V643h-2zM1587 638h6v2h-6zM1592 638h2V660h-2zM1590 651h6v2h-6zM1596 650h2V660h-2zM1594 658h6v2h-6zM1600 640h2V664h-2zM1598 658h6v2h-6zM1615 596h2V617h-2zM1613 612h6v2h-6zM1630 586h2V604h-2zM1628 597h6v2h-6zM1634 588h2V611h-2zM1632 602h6v2h-6zM1652 472h2V497h-2zM1650 492h6v2h-6zM1660 480h2V493h-2zM1658 491h6v2h-6zM1664 482h2V498h-2zM1662 491h6v2h-6zM1671 485h2V506h-2zM1669 500h6v2h-6zM1675 498h2V515h-2zM1673 511h6v2h-6zM1679 509h2V535h-2zM1677 530h6v2h-6zM1686 502h2V520h-2zM1684 514h6v2h-6zM1694 509h2V540h-2zM1692 534h6v2h-6zM1701 504h2V519h-2zM1699 515h6v2h-6zM1724 430h2V450h-2zM1722 447h6v2h-6zM1727 438h2V452h-2zM1725 447h6v2h-6zM1735 442h2V457h-2zM1733 454h6v2h-6zM1746 426h2V447h-2zM1744 439h6v2h-6zM1750 430h2V447h-2zM1748 441h6v2h-6zM1754 434h2V459h-2zM1752 448h6v2h-6zM1757 436h2V462h-2zM1755 450h6v2h-6zM1761 442h2V457h-2zM1759 450h6v2h-6zM1765 440h2V466h-2zM1763 458h6v2h-6zM1769 457h2V473h-2zM1767 468h6v2h-6zM1776 445h2V459h-2zM1774 456h6v2h-6zM1780 440h2V461h-2zM1778 456h6v2h-6zM1791 445h2V459h-2zM1789 454h6v2h-6zM1802 443h2V457h-2zM1800 450h6v2h-6zM1814 443h2V459h-2zM1812 452h6v2h-6zM1817 452h2V470h-2zM1815 467h6v2h-6zM1821 450h2V479h-2zM1819 473h6v2h-6zM1829 468h2V490h-2zM1827 486h6v2h-6zM1832 484h2V506h-2zM1830 498h6v2h-6zM1847 450h2V469h-2zM1845 464h6v2h-6zM1851 459h2V476h-2zM1849 468h6v2h-6zM1859 455h2V480h-2zM1857 473h6v2h-6zM1863 463h2V479h-2zM1861 475h6v2h-6zM1866 474h2V490h-2zM1864 485h6v2h-6zM1870 480h2V501h-2zM1868 492h6v2h-6zM1878 475h2V496h-2zM1876 492h6v2h-6zM1881 488h2V511h-2zM1879 502h6v2h-6zM1885 495h2V506h-2zM1883 502h6v2h-6zM1889 492h2V506h-2zM1887 503h6v2h-6zM1896 486h2V510h-2zM1894 505h6v2h-6zM1900 491h2V524h-2zM1898 508h6v2h-6zM1923 446h2V462h-2zM1921 455h6v2h-6zM1938 405h2V423h-2zM1936 417h6v2h-6zM1941 416h2V433h-2zM1939 430h6v2h-6zM1956 410h2V435h-2zM1954 425h6v2h-6zM1964 413h2V429h-2zM1962 422h6v2h-6zM1979 400h2V412h-2zM1977 409h6v2h-6zM1986 407h2V421h-2zM1984 418h6v2h-6zM1990 412h2V423h-2zM1988 420h6v2h-6zM1994 414h2V435h-2zM1992 426h6v2h-6zM2009 411h2V426h-2zM2007 423h6v2h-6zM2013 415h2V436h-2zM2011 432h6v2h-6zM2020 412h2V430h-2zM2018 426h6v2h-6zM2028 408h2V427h-2zM2026 418h6v2h-6zM2039 405h2V415h-2zM2037 412h6v2h-6zM2046 402h2V418h-2zM2044 412h6v2h-6zM2050 407h2V427h-2zM2048 421h6v2h-6zM2054 419h2V446h-2zM2052 442h6v2h-6zM2065 406h2V422h-2zM2063 418h6v2h-6zM2084 376h2V396h-2zM2082 388h6v2h-6zM2088 374h2V395h-2zM2086 390h6v2h-6zM2099 360h2V373h-2zM2097 369h6v2h-6zM2106 333h2V359h-2zM2104 352h6v2h-6zM2110 336h2V357h-2zM2108 352h6v2h-6zM2118 341h2V361h-2zM2116 355h6v2h-6zM2121 341h2V362h-2zM2119 356h6v2h-6zM2125 352h2V373h-2zM2123 364h6v2h-6zM2133 359h2V374h-2zM2131 366h6v2h-6zM2136 353h2V376h-2zM2134 371h6v2h-6zM2140 365h2V386h-2zM2138 378h6v2h-6zM2148 370h2V389h-2zM2146 381h6v2h-6zM2159 369h2V381h-2zM2157 377h6v2h-6zM2163 378h2V402h-2zM2161 396h6v2h-6zM2170 394h2V408h-2zM2168 404h6v2h-6zM2178 397h2V414h-2zM2176 406h6v2h-6zM2185 400h2V414h-2zM2183 407h6v2h-6zM2189 405h2V415h-2zM2187 412h6v2h-6zM2196 400h2V413h-2zM2194 410h6v2h-6zM2204 402h2V424h-2zM2202 415h6v2h-6zM2223 346h2V361h-2zM2221 358h6v2h-6zM2230 336h2V360h-2zM2228 349h6v2h-6zM2242 327h2V344h-2zM2240 339h6v2h-6zM2249 340h2V364h-2zM2247 359h6v2h-6zM2253 360h2V384h-2zM2251 380h6v2h-6zM2260 360h2V382h-2zM2258 377h6v2h-6zM2264 377h2V399h-2zM2262 394h6v2h-6zM2272 365h2V382h-2zM2270 377h6v2h-6zM2287 346h2V370h-2zM2285 365h6v2h-6zM2298 341h2V360h-2zM2296 356h6v2h-6zM2302 359h2V379h-2zM2300 375h6v2h-6zM2309 363h2V378h-2zM2307 374h6v2h-6zM2313 376h2V393h-2zM2311 390h6v2h-6zM2320 369h2V388h-2zM2318 382h6v2h-6zM2328 376h2V390h-2zM2326 386h6v2h-6zM2358 306h2V337h-2zM2356 327h6v2h-6zM2373 275h2V302h-2zM2371 296h6v2h-6zM2384 279h2V299h-2zM2382 295h6v2h-6zM2399 257h2V279h-2zM2397 269h6v2h-6zM2410 214h2V257h-2zM2408 250h6v2h-6zM2418 225h2V255h-2zM2416 243h6v2h-6zM2422 235h2V262h-2zM2420 256h6v2h-6zM2425 257h2V281h-2zM2423 271h6v2h-6zM2429 262h2V284h-2zM2427 274h6v2h-6zM2440 249h2V270h-2zM2438 266h6v2h-6zM2444 243h2V276h-2zM2442 270h6v2h-6zM2455 234h2V266h-2zM2453 256h6v2h-6zM2459 257h2V285h-2zM2457 275h6v2h-6zM2478 233h2V256h-2zM2476 252h6v2h-6zM2485 227h2V267h-2zM2483 255h6v2h-6zM2489 248h2V270h-2zM2487 261h6v2h-6zM2497 238h2V279h-2zM2495 272h6v2h-6zM2500 269h2V304h-2zM2498 288h6v2h-6zM2504 283h2V341h-2zM2502 319h6v2h-6zM2515 292h2V327h-2zM2513 313h6v2h-6zM2519 299h2V320h-2zM2517 315h6v2h-6zM2523 315h2V349h-2zM2521 336h6v2h-6zM2527 328h2V356h-2zM2525 347h6v2h-6zM2538 314h2V345h-2zM2536 334h6v2h-6zM2542 336h2V384h-2zM2540 372h6v2h-6zM2545 375h2V415h-2zM2543 403h6v2h-6zM2557 398h2V433h-2zM2555 422h6v2h-6zM2564 401h2V421h-2zM2562 416h6v2h-6zM2575 360h2V397h-2zM2573 385h6v2h-6zM2579 368h2V395h-2zM2577 387h6v2h-6zM2583 374h2V401h-2zM2581 388h6v2h-6z" fill="#ee0033"/><path d="M31 972h2V982h-2zM29 974h6v2h-6zM35 960h2V975h-2zM33 961h6v2h-6zM39 945h2V963h-2zM37 950h6v2h-6zM43 936h2V953h-2zM41 942h6v2h-6zM50 939h2V959h-2zM48 942h6v2h-6zM61 946h2V958h-2zM59 949h6v2h-6zM88 990h2V1008h-2zM86 993h6v2h-6zM99 976h2V998h-2zM97 978h6v2h-6zM103 970h2V989h-2zM101 975h6v2h-6zM121 972h2V989h-2zM119 976h6v2h-6zM125 968h2V985h-2zM123 975h6v2h-6zM129 965h2V984h-2zM127 968h6v2h-6zM133 960h2V974h-2zM131 963h6v2h-6zM136 961h2V971h-2zM134 963h6v2h-6zM144 959h2V970h-2zM142 962h6v2h-6zM159 966h2V985h-2zM157 973h6v2h-6zM163 961h2V977h-2zM161 963h6v2h-6zM166 951h2V974h-2zM164 954h6v2h-6zM185 964h2V979h-2zM183 968h6v2h-6zM189 965h2V983h-2zM187 967h6v2h-6zM200 960h2V974h-2zM198 963h6v2h-6zM208 964h2V974h-2zM206 965h6v2h-6zM211 962h2V974h-2zM209 963h6v2h-6zM219 899h2V939h-2zM217 901h6v2h-6zM226 884h2V910h-2zM224 886h6v2h-6zM234 880h2V895h-2zM232 883h6v2h-6zM238 862h2V882h-2zM236 864h6v2h-6zM253 856h2V877h-2zM251 862h6v2h-6zM256 857h2V868h-2zM254 860h6v2h-6zM268 863h2V883h-2zM266 869h6v2h-6zM271 866h2V879h-2zM269 866h6v2h-6zM279 844h2V871h-2zM277 847h6v2h-6zM298 849h2V870h-2zM296 853h6v2h-6zM305 808h2V856h-2zM303 815h6v2h-6zM316 811h2V833h-2zM314 816h6v2h-6zM320 813h2V825h-2zM318 814h6v2h-6zM339 855h2V870h-2zM337 860h6v2h-6zM350 855h2V868h-2zM348 858h6v2h-6zM358 855h2V875h-2zM356 858h6v2h-6zM361 841h2V860h-2zM359 846h6v2h-6zM388 832h2V861h-2zM386 837h6v2h-6zM392 832h2V845h-2zM390 834h6v2h-6zM395 826h2V845h-2zM393 831h6v2h-6zM407 821h2V843h-2zM405 825h6v2h-6zM410 810h2V829h-2zM408 814h6v2h-6zM429 834h2V845h-2zM427 835h6v2h-6zM433 832h2V843h-2zM431 835h6v2h-6zM437 813h2V838h-2zM435 820h6v2h-6zM440 817h2V834h-2zM438 819h6v2h-6zM448 811h2V840h-2zM446 814h6v2h-6zM467 843h2V853h-2zM465 847h6v2h-6zM470 837h2V856h-2zM468 844h6v2h-6zM478 855h2V868h-2zM476 856h6v2h-6zM489 850h2V862h-2zM487 854h6v2h-6zM500 854h2V872h-2zM498 858h6v2h-6zM508 837h2V870h-2zM506 841h6v2h-6zM519 842h2V855h-2zM517 843h6v2h-6zM530 848h2V859h-2zM528 849h6v2h-6zM545 852h2V866h-2zM543 853h6v2h-6zM549 839h2V855h-2zM547 840h6v2h-6zM553 826h2V840h-2zM551 828h6v2h-6zM564 870h2V892h-2zM562 875h6v2h-6zM568 870h2V884h-2zM566 872h6v2h-6zM572 866h2V876h-2zM570 866h6v2h-6zM575 860h2V870h-2zM573 862h6v2h-6zM579 857h2V869h-2zM577 858h6v2h-6zM583 839h2V859h-2zM581 843h6v2h-6zM587 831h2V845h-2zM585 833h6v2h-6zM590 821h2V838h-2zM588 823h6v2h-6zM594 817h2V840h-2zM592 823h6v2h-6zM598 790h2V824h-2zM596 794h6v2h-6zM602 782h2V796h-2zM600 783h6v2h-6zM609 763h2V794h-2zM607 764h6v2h-6zM639 779h2V805h-2zM637 785h6v2h-6zM654 803h2V814h-2zM652 804h6v2h-6zM658 791h2V807h-2zM656 794h6v2h-6zM669 800h2V816h-2zM667 804h6v2h-6zM677 780h2V807h-2zM675 783h6v2h-6zM680 765h2V786h-2zM678 768h6v2h-6zM699 814h2V832h-2zM697 819h6v2h-6zM707 821h2V836h-2zM705 824h6v2h-6zM710 819h2V834h-2zM708 821h6v2h-6zM722 825h2V844h-2zM720 833h6v2h-6zM733 846h2V858h-2zM731 849h6v2h-6zM737 836h2V859h-2zM735 839h6v2h-6zM744 837h2V849h-2zM742 841h6v2h-6zM748 832h2V847h-2zM746 833h6v2h-6zM752 830h2V845h-2zM750 833h6v2h-6zM778 855h2V869h-2zM776 858h6v2h-6zM782 850h2V863h-2zM780 851h6v2h-6zM789 858h2V871h-2zM787 860h6v2h-6zM793 852h2V868h-2zM791 854h6v2h-6zM808 861h2V879h-2zM806 863h6v2h-6zM812 843h2V863h-2zM810 848h6v2h-6zM816 809h2V848h-2zM814 812h6v2h-6zM819 804h2V817h-2zM817 808h6v2h-6zM823 791h2V815h-2zM821 795h6v2h-6zM827 791h2V807h-2zM825 794h6v2h-6zM834 798h2V813h-2zM832 800h6v2h-6zM842 792h2V807h-2zM840 794h6v2h-6zM853 789h2V805h-2zM851 794h6v2h-6zM857 779h2V797h-2zM855 783h6v2h-6zM864 778h2V788h-2zM862 779h6v2h-6zM868 769h2V784h-2zM866 773h6v2h-6zM887 784h2V793h-2zM885 786h6v2h-6zM894 781h2V797h-2zM892 782h6v2h-6zM902 750h2V783h-2zM900 757h6v2h-6zM906 754h2V765h-2zM904 755h6v2h-6zM917 750h2V767h-2zM915 755h6v2h-6zM924 754h2V764h-2zM922 757h6v2h-6zM939 804h2V826h-2zM937 808h6v2h-6zM943 772h2V809h-2zM941 773h6v2h-6zM947 758h2V781h-2zM945 764h6v2h-6zM951 747h2V766h-2zM949 749h6v2h-6zM958 746h2V761h-2zM956 750h6v2h-6zM962 747h2V761h-2zM960 749h6v2h-6zM966 723h2V749h-2zM964 729h6v2h-6zM973 729h2V746h-2zM971 731h6v2h-6zM988 732h2V756h-2zM986 736h6v2h-6zM992 727h2V742h-2zM990 729h6v2h-6zM1007 727h2V746h-2zM1005 728h6v2h-6zM1011 717h2V738h-2zM1009 725h6v2h-6zM1022 736h2V754h-2zM1020 737h6v2h-6zM1029 732h2V746h-2zM1027 734h6v2h-6zM1033 730h2V742h-2zM1031 731h6v2h-6zM1041 731h2V754h-2zM1039 734h6v2h-6zM1044 729h2V753h-2zM1042 733h6v2h-6zM1048 726h2V740h-2zM1046 731h6v2h-6zM1078 746h2V768h-2zM1076 749h6v2h-6zM1082 736h2V754h-2zM1080 742h6v2h-6zM1086 740h2V753h-2zM1084 742h6v2h-6zM1101 751h2V774h-2zM1099 753h6v2h-6zM1104 744h2V757h-2zM1102 747h6v2h-6zM1108 734h2V757h-2zM1106 743h6v2h-6zM1120 736h2V758h-2zM1118 739h6v2h-6zM1131 730h2V743h-2zM1129 732h6v2h-6zM1142 753h2V770h-2zM1140 758h6v2h-6zM1146 752h2V765h-2zM1144 753h6v2h-6zM1150 743h2V755h-2zM1148 745h6v2h-6zM1153 738h2V750h-2zM1151 740h6v2h-6zM1157 708h2V741h-2zM1155 713h6v2h-6zM1161 701h2V718h-2zM1159 703h6v2h-6zM1165 698h2V714h-2zM1163 701h6v2h-6zM1168 691h2V709h-2zM1166 693h6v2h-6zM1172 688h2V700h-2zM1170 692h6v2h-6zM1180 684h2V698h-2zM1178 689h6v2h-6zM1183 684h2V700h-2zM1181 686h6v2h-6zM1187 679h2V699h-2zM1185 685h6v2h-6zM1195 684h2V704h-2zM1193 692h6v2h-6zM1198 688h2V698h-2zM1196 690h6v2h-6zM1202 687h2V698h-2zM1200 688h6v2h-6zM1213 688h2V709h-2zM1211 693h6v2h-6zM1221 701h2V717h-2zM1219 705h6v2h-6zM1236 703h2V720h-2zM1234 706h6v2h-6zM1247 702h2V723h-2zM1245 707h6v2h-6zM1251 695h2V709h-2zM1249 698h6v2h-6zM1255 694h2V706h-2zM1253 698h6v2h-6zM1277 696h2V722h-2zM1275 699h6v2h-6zM1281 693h2V707h-2zM1279 698h6v2h-6zM1296 704h2V718h-2zM1294 707h6v2h-6zM1307 677h2V697h-2zM1305 679h6v2h-6zM1311 669h2V691h-2zM1309 678h6v2h-6zM1315 675h2V690h-2zM1313 676h6v2h-6zM1333 704h2V717h-2zM1331 706h6v2h-6zM1337 699h2V710h-2zM1335 700h6v2h-6zM1341 687h2V705h-2zM1339 694h6v2h-6zM1352 692h2V712h-2zM1350 694h6v2h-6zM1356 689h2V705h-2zM1354 693h6v2h-6zM1371 713h2V726h-2zM1369 715h6v2h-6zM1378 711h2V726h-2zM1376 713h6v2h-6zM1397 721h2V737h-2zM1395 722h6v2h-6zM1401 716h2V734h-2zM1399 722h6v2h-6zM1416 706h2V728h-2zM1414 714h6v2h-6zM1420 702h2V719h-2zM1418 707h6v2h-6zM1427 699h2V718h-2zM1425 706h6v2h-6zM1431 703h2V713h-2zM1429 704h6v2h-6zM1438 701h2V722h-2zM1436 704h6v2h-6zM1442 687h2V708h-2zM1440 689h6v2h-6zM1446 682h2V694h-2zM1444 683h6v2h-6zM1457 682h2V694h-2zM1455 686h6v2h-6zM1465 676h2V694h-2zM1463 680h6v2h-6zM1468 675h2V692h-2zM1466 678h6v2h-6zM1480 689h2V706h-2zM1478 692h6v2h-6zM1487 674h2V694h-2zM1485 678h6v2h-6zM1502 663h2V690h-2zM1500 668h6v2h-6zM1506 663h2V672h-2zM1504 663h6v2h-6zM1510 654h2V670h-2zM1508 657h6v2h-6zM1514 651h2V666h-2zM1512 656h6v2h-6zM1525 660h2V668h-2zM1523 661h6v2h-6zM1532 659h2V672h-2zM1530 662h6v2h-6zM1536 658h2V675h-2zM1534 660h6v2h-6zM1540 644h2V665h-2zM1538 648h6v2h-6zM1551 646h2V666h-2zM1549 652h6v2h-6zM1581 681h2V690h-2zM1579 682h6v2h-6zM1585 635h2V685h-2zM1583 638h6v2h-6zM1604 635h2V658h-2zM1602 638h6v2h-6zM1607 614h2V639h-2zM1605 619h6v2h-6zM1611 602h2V622h-2zM1609 603h6v2h-6zM1619 595h2V614h-2zM1617 599h6v2h-6zM1622 592h2V607h-2zM1620 596h6v2h-6zM1626 584h2V612h-2zM1624 588h6v2h-6zM1637 567h2V606h-2zM1635 572h6v2h-6zM1641 544h2V574h-2zM1639 550h6v2h-6zM1645 517h2V552h-2zM1643 523h6v2h-6zM1649 469h2V521h-2zM1647 474h6v2h-6zM1656 489h2V503h-2zM1654 490h6v2h-6zM1667 485h2V496h-2zM1665 486h6v2h-6zM1682 492h2V531h-2zM1680 503h6v2h-6zM1690 499h2V519h-2zM1688 506h6v2h-6zM1697 503h2V536h-2zM1695 506h6v2h-6zM1705 500h2V529h-2zM1703 507h6v2h-6zM1709 496h2V511h-2zM1707 498h6v2h-6zM1712 461h2V497h-2zM1710 465h6v2h-6zM1716 448h2V473h-2zM1714 451h6v2h-6zM1720 430h2V454h-2zM1718 431h6v2h-6zM1731 437h2V453h-2zM1729 442h6v2h-6zM1739 441h2V463h-2zM1737 446h6v2h-6zM1742 430h2V449h-2zM1740 434h6v2h-6zM1772 445h2V469h-2zM1770 452h6v2h-6zM1784 450h2V464h-2zM1782 453h6v2h-6zM1787 446h2V469h-2zM1785 452h6v2h-6zM1795 447h2V472h-2zM1793 451h6v2h-6zM1799 442h2V456h-2zM1797 444h6v2h-6zM1806 442h2V457h-2zM1804 444h6v2h-6zM1810 442h2V460h-2zM1808 444h6v2h-6zM1825 463h2V485h-2zM1823 468h6v2h-6zM1836 488h2V510h-2zM1834 494h6v2h-6zM1840 472h2V497h-2zM1838 476h6v2h-6zM1844 455h2V477h-2zM1842 460h6v2h-6zM1855 451h2V473h-2zM1853 459h6v2h-6zM1874 476h2V494h-2zM1872 480h6v2h-6zM1893 479h2V507h-2zM1891 486h6v2h-6zM1904 484h2V511h-2zM1902 490h6v2h-6zM1908 462h2V495h-2zM1906 467h6v2h-6zM1911 455h2V472h-2zM1909 456h6v2h-6zM1915 454h2V465h-2zM1913 456h6v2h-6zM1919 446h2V463h-2zM1917 451h6v2h-6zM1926 439h2V457h-2zM1924 444h6v2h-6zM1930 424h2V445h-2zM1928 429h6v2h-6zM1934 408h2V430h-2zM1932 412h6v2h-6zM1945 419h2V443h-2zM1943 428h6v2h-6zM1949 423h2V441h-2zM1947 426h6v2h-6zM1953 415h2V434h-2zM1951 417h6v2h-6zM1960 416h2V433h-2zM1958 418h6v2h-6zM1968 409h2V425h-2zM1966 413h6v2h-6zM1971 405h2V426h-2zM1969 409h6v2h-6zM1975 392h2V419h-2zM1973 402h6v2h-6zM1983 397h2V423h-2zM1981 406h6v2h-6zM1998 417h2V430h-2zM1996 418h6v2h-6zM2001 415h2V432h-2zM1999 417h6v2h-6zM2005 403h2V429h-2zM2003 412h6v2h-6zM2016 420h2V436h-2zM2014 424h6v2h-6zM2024 413h2V432h-2zM2022 416h6v2h-6zM2031 415h2V433h-2zM2029 417h6v2h-6zM2035 387h2V417h-2zM2033 407h6v2h-6zM2043 399h2V417h-2zM2041 403h6v2h-6zM2058 431h2V450h-2zM2056 436h6v2h-6zM2061 414h2V440h-2zM2059 416h6v2h-6zM2069 406h2V423h-2zM2067 410h6v2h-6zM2073 406h2V421h-2zM2071 409h6v2h-6zM2076 377h2V408h-2zM2074 381h6v2h-6zM2080 373h2V397h-2zM2078 378h6v2h-6zM2091 385h2V402h-2zM2089 388h6v2h-6zM2095 356h2V390h-2zM2093 360h6v2h-6zM2103 349h2V371h-2zM2101 351h6v2h-6zM2114 344h2V370h-2zM2112 351h6v2h-6zM2129 359h2V382h-2zM2127 362h6v2h-6zM2144 365h2V389h-2zM2142 373h6v2h-6zM2151 374h2V391h-2zM2149 378h6v2h-6zM2155 366h2V386h-2zM2153 374h6v2h-6zM2166 390h2V416h-2zM2164 396h6v2h-6zM2174 395h2V425h-2zM2172 402h6v2h-6zM2181 401h2V422h-2zM2179 404h6v2h-6zM2193 404h2V418h-2zM2191 409h6v2h-6zM2200 402h2V416h-2zM2198 403h6v2h-6zM2208 407h2V419h-2zM2206 411h6v2h-6zM2211 402h2V424h-2zM2209 410h6v2h-6zM2215 406h2V428h-2zM2213 409h6v2h-6zM2219 346h2V409h-2zM2217 353h6v2h-6zM2227 343h2V365h-2zM2225 345h6v2h-6zM2234 324h2V353h-2zM2232 329h6v2h-6zM2238 326h2V345h-2zM2236 328h6v2h-6zM2245 334h2V348h-2zM2243 339h6v2h-6zM2257 368h2V387h-2zM2255 371h6v2h-6zM2268 364h2V397h-2zM2266 368h6v2h-6zM2275 356h2V380h-2zM2273 360h6v2h-6zM2279 355h2V373h-2zM2277 360h6v2h-6zM2283 344h2V367h-2zM2281 353h6v2h-6zM2290 356h2V380h-2zM2288 364h6v2h-6zM2294 346h2V367h-2zM2292 354h6v2h-6zM2305 330h2V395h-2zM2303 363h6v2h-6zM2317 375h2V394h-2zM2315 382h6v2h-6zM2324 378h2V393h-2zM2322 380h6v2h-6zM2332 374h2V390h-2zM2330 378h6v2h-6zM2335 377h2V390h-2zM2333 377h6v2h-6zM2339 359h2V390h-2zM2337 365h6v2h-6zM2343 356h2V380h-2zM2341 359h6v2h-6zM2347 341h2V361h-2zM2345 345h6v2h-6zM2350 337h2V354h-2zM2348 344h6v2h-6zM2354 313h2V346h-2zM2352 321h6v2h-6zM2362 309h2V346h-2zM2360 322h6v2h-6zM2365 300h2V332h-2zM2363 313h6v2h-6zM2369 286h2V314h-2zM2367 289h6v2h-6zM2377 287h2V322h-2zM2375 291h6v2h-6zM2380 285h2V313h-2zM2378 291h6v2h-6zM2388 284h2V307h-2zM2386 290h6v2h-6zM2392 271h2V300h-2zM2390 283h6v2h-6zM2395 261h2V287h-2zM2393 265h6v2h-6zM2403 248h2V271h-2zM2401 253h6v2h-6zM2407 212h2V254h-2zM2405 223h6v2h-6zM2414 231h2V262h-2zM2412 243h6v2h-6zM2433 271h2V300h-2zM2431 274h6v2h-6zM2437 260h2V290h-2zM2435 265h6v2h-6zM2448 247h2V275h-2zM2446 252h6v2h-6zM2452 226h2V258h-2zM2450 235h6v2h-6zM2463 266h2V286h-2zM2461 273h6v2h-6zM2467 265h2V288h-2zM2465 270h6v2h-6zM2470 266h2V286h-2zM2468 269h6v2h-6zM2474 242h2V275h-2zM2472 249h6v2h-6zM2482 228h2V256h-2zM2480 236h6v2h-6zM2493 247h2V271h-2zM2491 256h6v2h-6zM2508 311h2V331h-2zM2506 312h6v2h-6zM2512 288h2V327h-2zM2510 303h6v2h-6zM2530 333h2V361h-2zM2528 342h6v2h-6zM2534 313h2V345h-2zM2532 322h6v2h-6zM2549 390h2V433h-2zM2547 401h6v2h-6zM2553 390h2V412h-2zM2551 398h6v2h-6zM2560 411h2V433h-2zM2558 414h6v2h-6zM2568 392h2V424h-2zM2566 404h6v2h-6zM2572 376h2V408h-2zM2570 384h6v2h-6z" fill="#000"/></g><rect x="21" y="1114" width="2668" height="2" fill="#dadada"/><rect x="21" y="1648" width="2668" height="2" fill="#dadada"/><rect x="2586" y="55" width="2" height="1636" fill="#dadada"/><g clip-path="url(#ca)"><text transform="translate(2600.9 62.7) scale(1.06 1)" font-size="17" font-weight="normal" fill="#111" text-anchor="start" letter-spacing="0.42">2,600.00</text><text transform="translate(2600.9 104.5) scale(1.06 1)" font-size="17" font-weight="normal" fill="#111" text-anchor="start" letter-spacing="0.42">2,300.00</text><text transform="translate(2600.9 152.1) scale(1.06 1)" font-size="17" font-weight="normal" fill="#111" text-anchor="start" letter-spacing="0.42">2,000.00</text><text transform="translate(2600.9 207.4) scale(1.06 1)" font-size="17" font-weight="normal" fill="#111" text-anchor="start" letter-spacing="0.42">1,700.00</text><text transform="translate(2600.9 250) scale(1.06 1)" font-size="17" font-weight="normal" fill="#111" text-anchor="start" letter-spacing="0.42">1,500.00</text><text transform="translate(2600.9 298.8) scale(1.06 1)" font-size="17" font-weight="normal" fill="#111" text-anchor="start" letter-spacing="0.42">1,300.00</text><text transform="translate(2600.9 340.5) scale(1.06 1)" font-size="17" font-weight="normal" fill="#111" text-anchor="start" letter-spacing="0.42">1,150.00</text><text transform="translate(2600.9 391.5) scale(1.06 1)" font-size="17" font-weight="normal" fill="#111" text-anchor="start" letter-spacing="0.42">990.00</text><text transform="translate(2600.9 435.5) scale(1.06 1)" font-size="17" font-weight="normal" fill="#111" text-anchor="start" letter-spacing="0.42">870.00</text><text transform="translate(2600.9 486.1) scale(1.06 1)" font-size="17" font-weight="normal" fill="#111" text-anchor="start" letter-spacing="0.42">750.00</text><text transform="translate(2600.9 534.8) scale(1.06 1)" font-size="17" font-weight="normal" fill="#111" text-anchor="start" letter-spacing="0.42">650.00</text><text transform="translate(2600.9 627.6) scale(1.06 1)" font-size="17" font-weight="normal" fill="#111" text-anchor="start" letter-spacing="0.42">495.00</text><text transform="translate(2600.9 671.6) scale(1.06 1)" font-size="17" font-weight="normal" fill="#111" text-anchor="start" letter-spacing="0.42">435.00</text><text transform="translate(2600.9 722.1) scale(1.06 1)" font-size="17" font-weight="normal" fill="#111" text-anchor="start" letter-spacing="0.42">375.00</text><text transform="translate(2600.9 770.8) scale(1.06 1)" font-size="17" font-weight="normal" fill="#111" text-anchor="start" letter-spacing="0.42">325.00</text><text transform="translate(2600.9 815.6) scale(1.06 1)" font-size="17" font-weight="normal" fill="#111" text-anchor="start" letter-spacing="0.42">285.00</text><text transform="translate(2600.9 867) scale(1.06 1)" font-size="17" font-weight="normal" fill="#111" text-anchor="start" letter-spacing="0.42">245.00</text><text transform="translate(2600.9 911.5) scale(1.06 1)" font-size="17" font-weight="normal" fill="#111" text-anchor="start" letter-spacing="0.42">215.00</text><text transform="translate(2600.9 951.8) scale(1.06 1)" font-size="17" font-weight="normal" fill="#111" text-anchor="start" letter-spacing="0.42">191.00</text><text transform="translate(2600.9 997.6) scale(1.06 1)" font-size="17" font-weight="normal" fill="#111" text-anchor="start" letter-spacing="0.42">167.00</text><text transform="translate(2600.9 1041) scale(1.06 1)" font-size="17" font-weight="normal" fill="#111" text-anchor="start" letter-spacing="0.42">147.00</text><text transform="translate(2600.9 1085.5) scale(1.06 1)" font-size="17" font-weight="normal" fill="#111" text-anchor="start" letter-spacing="0.42">129.00</text></g><text transform="translate(2600.9 1143.3) scale(1.06 1)" font-size="17" font-weight="normal" fill="#111" text-anchor="start" letter-spacing="0.42">1.50</text><text transform="translate(2600.9 1202.5) scale(1.06 1)" font-size="17" font-weight="normal" fill="#111" text-anchor="start" letter-spacing="0.42">2.00</text><text transform="translate(2600.9 1261.6) scale(1.06 1)" font-size="17" font-weight="normal" fill="#111" text-anchor="start" letter-spacing="0.42">2.50</text><text transform="translate(2600.9 1320.8) scale(1.06 1)" font-size="17" font-weight="normal" fill="#111" text-anchor="start" letter-spacing="0.42">3.00</text><text transform="translate(2600.9 1379.9) scale(1.06 1)" font-size="17" font-weight="normal" fill="#111" text-anchor="start" letter-spacing="0.42">3.50</text><text transform="translate(2600.9 1439.1) scale(1.06 1)" font-size="17" font-weight="normal" fill="#111" text-anchor="start" letter-spacing="0.42">4.00</text><text transform="translate(2600.9 1557.4) scale(1.06 1)" font-size="17" font-weight="normal" fill="#111" text-anchor="start" letter-spacing="0.42">5.00</text><text transform="translate(2600.9 1616.5) scale(1.06 1)" font-size="17" font-weight="normal" fill="#111" text-anchor="start" letter-spacing="0.42">5.50</text><path d="M2589 384H2663a3 3 0 0 1 3 3V403a3 3 0 0 1 -3 3H2589Z" fill="#fff" stroke="#ee0033" stroke-width="2"/><text transform="translate(2600.9 401.1) scale(1.06 1)" font-size="17" font-weight="normal" fill="#ee0033" text-anchor="start" letter-spacing="0.42">966.75</text><path d="M2588 565h91a4 4 0 0 1 4 4v35a4 4 0 0 1 -4 4h-91z" fill="#ee0033"/><text transform="translate(2600.9 582.8) scale(1.06 1)" font-size="17" font-weight="normal" fill="#fff" text-anchor="start" letter-spacing="0.42">566.05</text><text transform="translate(2600.9 602) scale(1.06 1)" font-size="17" font-weight="normal" fill="#fff" text-anchor="start" letter-spacing="0.42" fill-opacity="0.85">03:35:25</text><path d="M2589 1480H2642.8a3 3 0 0 1 3 3V1498.8a3 3 0 0 1 -3 3H2589Z" fill="#fff" stroke="#000" stroke-width="2"/><text transform="translate(2600.9 1497) scale(1.06 1)" font-size="17" font-weight="normal" fill="#000" text-anchor="start" letter-spacing="0.42">4.68</text><path d="M2589 1504H2642.8a3 3 0 0 1 3 3V1521.8a3 3 0 0 1 -3 3H2589Z" fill="#fff" stroke="#d9102a" stroke-width="2"/><text transform="translate(2600.9 1520.5) scale(1.06 1)" font-size="17" font-weight="normal" fill="#d9102a" text-anchor="start" letter-spacing="0.42">4.68</text><text transform="translate(36.3 1677) scale(1.0 1)" font-size="17" font-weight="normal" fill="#111" text-anchor="middle" letter-spacing="0.35">Jun</text><text transform="translate(118.6 1677) scale(1.0 1)" font-size="17" font-weight="normal" fill="#111" text-anchor="middle" letter-spacing="0.35">Jul</text><text transform="translate(196.7 1677) scale(1.0 1)" font-size="17" font-weight="normal" fill="#111" text-anchor="middle" letter-spacing="0.35">Aug</text><text transform="translate(271.4 1677) scale(1.0 1)" font-size="17" font-weight="normal" fill="#111" text-anchor="middle" letter-spacing="0.35">Sep</text><text transform="translate(353.7 1677) scale(1.0 1)" font-size="17" font-weight="normal" fill="#111" text-anchor="middle" letter-spacing="0.35">Oct</text><text transform="translate(424.9 1677) scale(1.0 1)" font-size="17" font-weight="normal" fill="#111" text-anchor="middle" letter-spacing="0.35">Nov</text><text transform="translate(503.2 1677) scale(1.0 1)" font-size="17" font-weight="normal" fill="#111" text-anchor="middle" letter-spacing="0.35">Dec</text><text transform="translate(585.5 1677) scale(1.08 1)" font-size="17" font-weight="bold" fill="#111" text-anchor="middle" letter-spacing="0.8">2023</text><text transform="translate(663.8 1677) scale(1.0 1)" font-size="17" font-weight="normal" fill="#111" text-anchor="middle" letter-spacing="0.35">Feb</text><text transform="translate(738.4 1677) scale(1.0 1)" font-size="17" font-weight="normal" fill="#111" text-anchor="middle" letter-spacing="0.35">Mar</text><text transform="translate(880.2 1677) scale(1.0 1)" font-size="17" font-weight="normal" fill="#111" text-anchor="middle" letter-spacing="0.35">May</text><text transform="translate(962.6 1677) scale(1.0 1)" font-size="17" font-weight="normal" fill="#111" text-anchor="middle" letter-spacing="0.35">Jun</text><text transform="translate(1041.2 1677) scale(1.0 1)" font-size="17" font-weight="normal" fill="#111" text-anchor="middle" letter-spacing="0.35">Jul</text><text transform="translate(1119.5 1677) scale(1.0 1)" font-size="17" font-weight="normal" fill="#111" text-anchor="middle" letter-spacing="0.35">Aug</text><text transform="translate(1201.7 1677) scale(1.0 1)" font-size="17" font-weight="normal" fill="#111" text-anchor="middle" letter-spacing="0.35">Sep</text><text transform="translate(1276.3 1677) scale(1.0 1)" font-size="17" font-weight="normal" fill="#111" text-anchor="middle" letter-spacing="0.35">Oct</text><text transform="translate(1351.5 1677) scale(1.0 1)" font-size="17" font-weight="normal" fill="#111" text-anchor="middle" letter-spacing="0.35">Nov</text><text transform="translate(1429.6 1677) scale(1.0 1)" font-size="17" font-weight="normal" fill="#111" text-anchor="middle" letter-spacing="0.35">Dec</text><text transform="translate(1504.3 1677) scale(1.08 1)" font-size="17" font-weight="bold" fill="#111" text-anchor="middle" letter-spacing="0.8">2024</text><text transform="translate(1586.6 1677) scale(1.0 1)" font-size="17" font-weight="normal" fill="#111" text-anchor="middle" letter-spacing="0.35">Feb</text><text transform="translate(1664.9 1677) scale(1.0 1)" font-size="17" font-weight="normal" fill="#111" text-anchor="middle" letter-spacing="0.35">Mar</text><text transform="translate(1735.7 1677) scale(1.0 1)" font-size="17" font-weight="normal" fill="#111" text-anchor="middle" letter-spacing="0.35">Apr</text><text transform="translate(1810.3 1677) scale(1.0 1)" font-size="17" font-weight="normal" fill="#111" text-anchor="middle" letter-spacing="0.35">May</text><text transform="translate(1892.7 1677) scale(1.0 1)" font-size="17" font-weight="normal" fill="#111" text-anchor="middle" letter-spacing="0.35">Jun</text><text transform="translate(1963.9 1677) scale(1.0 1)" font-size="17" font-weight="normal" fill="#111" text-anchor="middle" letter-spacing="0.35">Jul</text><text transform="translate(2046 1677) scale(1.0 1)" font-size="17" font-weight="normal" fill="#111" text-anchor="middle" letter-spacing="0.35">Aug</text><text transform="translate(2124.1 1677) scale(1.0 1)" font-size="17" font-weight="normal" fill="#111" text-anchor="middle" letter-spacing="0.35">Sep</text><text transform="translate(2202.8 1677) scale(1.0 1)" font-size="17" font-weight="normal" fill="#111" text-anchor="middle" letter-spacing="0.35">Oct</text><text transform="translate(2284.9 1677) scale(1.0 1)" font-size="17" font-weight="normal" fill="#111" text-anchor="middle" letter-spacing="0.35">Nov</text><text transform="translate(2355.7 1677) scale(1.0 1)" font-size="17" font-weight="normal" fill="#111" text-anchor="middle" letter-spacing="0.35">Dec</text><text transform="translate(2434.4 1677) scale(1.08 1)" font-size="17" font-weight="bold" fill="#111" text-anchor="middle" letter-spacing="0.8">2025</text><text transform="translate(2520.2 1677) scale(1.0 1)" font-size="17" font-weight="normal" fill="#111" text-anchor="middle" letter-spacing="0.35">Feb</text><g fill="#131313"><path d="M24.2 1736.1h23.8v29.9h-11.9v-18h-11.9z"/><circle cx="58.1" cy="1742" r="5.9"/><path d="M69.4 1736.1h14.5l-11.9 29.9h-14z"/></g><text y="1766" font-size="42" font-weight="bold" fill="#131313" x="97.2 119.9 132.2 158.3 183.2 194.4 218.7 241.3 271.3 282.2 307.8">TradingView</text></svg></body></html>
